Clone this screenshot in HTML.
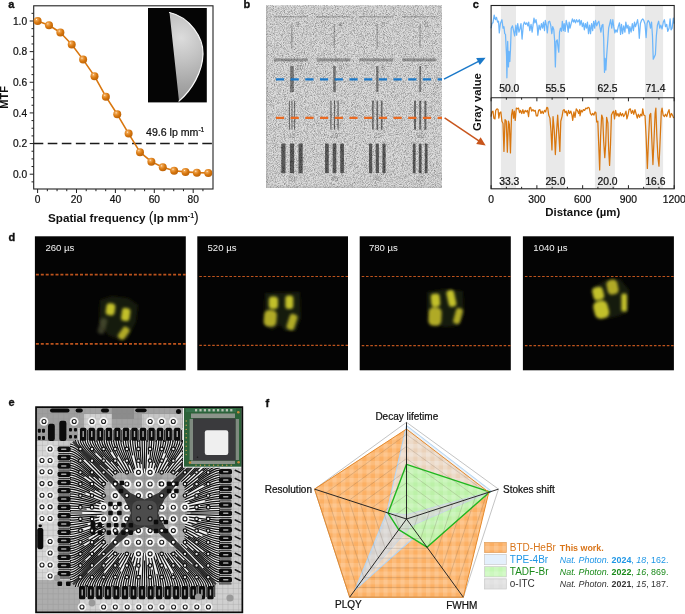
<!DOCTYPE html>
<html lang="en"><head><meta charset="utf-8"><title>Figure</title>
<style>html,body{margin:0;padding:0;background:#fff;overflow:hidden}svg{display:block}text{font-family:"Liberation Sans",sans-serif}</style>
</head><body>
<svg width="685" height="614" viewBox="0 0 685 614">
<rect width="685" height="614" fill="#fff"/>

<defs>
<radialGradient id="ballGrad" cx="0.36" cy="0.32" r="0.75">
<stop offset="0" stop-color="#fff0dc"/><stop offset="0.16" stop-color="#f0a550"/><stop offset="0.55" stop-color="#d8780f"/><stop offset="1" stop-color="#b85f06"/>
</radialGradient>
<radialGradient id="moonGrad" gradientUnits="userSpaceOnUse" cx="181" cy="38" r="62">
<stop offset="0" stop-color="#dcdcdc"/><stop offset="0.35" stop-color="#c4c4c4"/><stop offset="0.75" stop-color="#a6a6a6"/><stop offset="1" stop-color="#969696"/>
</radialGradient>
<filter id="blur03" x="-5%" y="-5%" width="110%" height="110%"><feGaussianBlur stdDeviation="0.3"/></filter>
<filter id="blur05" x="-5%" y="-5%" width="110%" height="110%"><feGaussianBlur stdDeviation="0.5"/></filter>
<filter id="blur1" x="-20%" y="-20%" width="140%" height="140%"><feGaussianBlur stdDeviation="1.35"/></filter>
<filter id="blur15" x="-30%" y="-30%" width="160%" height="160%"><feGaussianBlur stdDeviation="1.5"/></filter>
<filter id="blur2" x="-30%" y="-30%" width="160%" height="160%"><feGaussianBlur stdDeviation="2.2"/></filter>
<filter id="noiseB" x="0" y="0" width="100%" height="100%" color-interpolation-filters="sRGB">
<feTurbulence type="fractalNoise" baseFrequency="1.1" numOctaves="1" seed="3" result="n"/>
<feColorMatrix type="matrix" values="2.6 0 0 0 -0.52  2.6 0 0 0 -0.52  2.6 0 0 0 -0.52  0 0 0 0 1" in="n"/>
</filter>
<filter id="noiseB2" x="0" y="0" width="100%" height="100%" color-interpolation-filters="sRGB">
<feTurbulence type="fractalNoise" baseFrequency="1.3" numOctaves="1" seed="8" result="n"/>
<feColorMatrix type="matrix" values="3 0 0 0 -0.6  3 0 0 0 -0.6  3 0 0 0 -0.6  0 0 0 0 1" in="n"/>
</filter>
<pattern id="chkO" width="8.5" height="8.5" patternUnits="userSpaceOnUse" x="1" y="2">
<rect x="0" y="0" width="4.25" height="8.5" fill="#fff" fill-opacity="0.15"/><rect x="0" y="0" width="8.5" height="4.25" fill="#fff" fill-opacity="0.15"/>
</pattern>
<pattern id="chkG" width="8.5" height="8.5" patternUnits="userSpaceOnUse" x="1" y="2">
<rect x="0" y="0" width="4.25" height="8.5" fill="#fff" fill-opacity="0.14"/><rect x="0" y="0" width="8.5" height="4.25" fill="#fff" fill-opacity="0.14"/>
</pattern>
<pattern id="chkS" width="8.5" height="8.5" patternUnits="userSpaceOnUse" x="1" y="2">
<rect x="0" y="0" width="4.25" height="8.5" fill="#fff" fill-opacity="0.12"/><rect x="0" y="0" width="8.5" height="4.25" fill="#fff" fill-opacity="0.12"/>
</pattern>
</defs>
<g id="panel-a">
<rect x="148" y="8" width="58.8" height="94.4" fill="#050505"/>
<path d="M169.5 12.5 C190 17 203.5 38 203 54 C202.5 72 192 90 179 101.1 Z" fill="url(#moonGrad)"/>
<path d="M169.5 12.5 C190 17 203.5 38 203 54 C202.5 72 192 90 179 101.1" fill="none" stroke="#fafafa" stroke-width="1.2" stroke-linecap="round"/>
<rect x="33.7" y="5.8" width="179.3" height="183.2" fill="none" stroke="#222" stroke-width="1.1"/>
<line x1="31.5" y1="181.86" x2="33.7" y2="181.86" stroke="#222" stroke-width="1"/>
<line x1="29.7" y1="174.2" x2="33.7" y2="174.2" stroke="#222" stroke-width="1"/>
<line x1="31.5" y1="166.54" x2="33.7" y2="166.54" stroke="#222" stroke-width="1"/>
<line x1="31.5" y1="158.88" x2="33.7" y2="158.88" stroke="#222" stroke-width="1"/>
<line x1="31.5" y1="151.22" x2="33.7" y2="151.22" stroke="#222" stroke-width="1"/>
<line x1="29.7" y1="143.56" x2="33.7" y2="143.56" stroke="#222" stroke-width="1"/>
<line x1="31.5" y1="135.9" x2="33.7" y2="135.9" stroke="#222" stroke-width="1"/>
<line x1="31.5" y1="128.24" x2="33.7" y2="128.24" stroke="#222" stroke-width="1"/>
<line x1="31.5" y1="120.58" x2="33.7" y2="120.58" stroke="#222" stroke-width="1"/>
<line x1="29.7" y1="112.92" x2="33.7" y2="112.92" stroke="#222" stroke-width="1"/>
<line x1="31.5" y1="105.26" x2="33.7" y2="105.26" stroke="#222" stroke-width="1"/>
<line x1="31.5" y1="97.6" x2="33.7" y2="97.6" stroke="#222" stroke-width="1"/>
<line x1="31.5" y1="89.94" x2="33.7" y2="89.94" stroke="#222" stroke-width="1"/>
<line x1="29.7" y1="82.28" x2="33.7" y2="82.28" stroke="#222" stroke-width="1"/>
<line x1="31.5" y1="74.62" x2="33.7" y2="74.62" stroke="#222" stroke-width="1"/>
<line x1="31.5" y1="66.96" x2="33.7" y2="66.96" stroke="#222" stroke-width="1"/>
<line x1="31.5" y1="59.3" x2="33.7" y2="59.3" stroke="#222" stroke-width="1"/>
<line x1="29.7" y1="51.64" x2="33.7" y2="51.64" stroke="#222" stroke-width="1"/>
<line x1="31.5" y1="43.98" x2="33.7" y2="43.98" stroke="#222" stroke-width="1"/>
<line x1="31.5" y1="36.32" x2="33.7" y2="36.32" stroke="#222" stroke-width="1"/>
<line x1="31.5" y1="28.66" x2="33.7" y2="28.66" stroke="#222" stroke-width="1"/>
<line x1="29.7" y1="21" x2="33.7" y2="21" stroke="#222" stroke-width="1"/>
<line x1="31.5" y1="13.34" x2="33.7" y2="13.34" stroke="#222" stroke-width="1"/>
<line x1="37.6" y1="189" x2="37.6" y2="193" stroke="#222" stroke-width="1"/>
<line x1="47.33" y1="189" x2="47.33" y2="191.2" stroke="#222" stroke-width="1"/>
<line x1="57.05" y1="189" x2="57.05" y2="191.2" stroke="#222" stroke-width="1"/>
<line x1="66.78" y1="189" x2="66.78" y2="191.2" stroke="#222" stroke-width="1"/>
<line x1="76.5" y1="189" x2="76.5" y2="193" stroke="#222" stroke-width="1"/>
<line x1="86.22" y1="189" x2="86.22" y2="191.2" stroke="#222" stroke-width="1"/>
<line x1="95.95" y1="189" x2="95.95" y2="191.2" stroke="#222" stroke-width="1"/>
<line x1="105.68" y1="189" x2="105.68" y2="191.2" stroke="#222" stroke-width="1"/>
<line x1="115.4" y1="189" x2="115.4" y2="193" stroke="#222" stroke-width="1"/>
<line x1="125.12" y1="189" x2="125.12" y2="191.2" stroke="#222" stroke-width="1"/>
<line x1="134.85" y1="189" x2="134.85" y2="191.2" stroke="#222" stroke-width="1"/>
<line x1="144.58" y1="189" x2="144.58" y2="191.2" stroke="#222" stroke-width="1"/>
<line x1="154.3" y1="189" x2="154.3" y2="193" stroke="#222" stroke-width="1"/>
<line x1="164.03" y1="189" x2="164.03" y2="191.2" stroke="#222" stroke-width="1"/>
<line x1="173.75" y1="189" x2="173.75" y2="191.2" stroke="#222" stroke-width="1"/>
<line x1="183.47" y1="189" x2="183.47" y2="191.2" stroke="#222" stroke-width="1"/>
<line x1="193.2" y1="189" x2="193.2" y2="193" stroke="#222" stroke-width="1"/>
<line x1="202.93" y1="189" x2="202.93" y2="191.2" stroke="#222" stroke-width="1"/>
<text x="27.1" y="177.8" font-size="10.2" text-anchor="end" fill="#111" stroke="#111" stroke-width="0.22">0.0</text>
<text x="27.1" y="147.16" font-size="10.2" text-anchor="end" fill="#111" stroke="#111" stroke-width="0.22">0.2</text>
<text x="27.1" y="116.52" font-size="10.2" text-anchor="end" fill="#111" stroke="#111" stroke-width="0.22">0.4</text>
<text x="27.1" y="85.88" font-size="10.2" text-anchor="end" fill="#111" stroke="#111" stroke-width="0.22">0.6</text>
<text x="27.1" y="55.24" font-size="10.2" text-anchor="end" fill="#111" stroke="#111" stroke-width="0.22">0.8</text>
<text x="27.1" y="24.6" font-size="10.2" text-anchor="end" fill="#111" stroke="#111" stroke-width="0.22">1.0</text>
<text x="37.6" y="203.4" font-size="10.2" text-anchor="middle" fill="#111" stroke="#111" stroke-width="0.22">0</text>
<text x="76.5" y="203.4" font-size="10.2" text-anchor="middle" fill="#111" stroke="#111" stroke-width="0.22">20</text>
<text x="115.4" y="203.4" font-size="10.2" text-anchor="middle" fill="#111" stroke="#111" stroke-width="0.22">40</text>
<text x="154.3" y="203.4" font-size="10.2" text-anchor="middle" fill="#111" stroke="#111" stroke-width="0.22">60</text>
<text x="193.2" y="203.4" font-size="10.2" text-anchor="middle" fill="#111" stroke="#111" stroke-width="0.22">80</text>
<text transform="translate(7.9,97.4) rotate(-90)" font-size="11" font-weight="bold" text-anchor="middle" fill="#111">MTF</text>
<text x="123.4" y="221.5" font-size="11.7" font-weight="bold" text-anchor="middle" fill="#111">Spatial frequency <tspan font-weight="normal" font-size="14" dy="0.8">(</tspan><tspan dy="-0.8">lp mm</tspan><tspan font-size="7" dy="-4">-1</tspan><tspan font-weight="normal" font-size="14" dy="4.8">)</tspan></text>
<line x1="33.7" y1="143.56" x2="213" y2="143.56" stroke="#1a1a1a" stroke-width="1.5" stroke-dasharray="9.6 4.45"/>
<text x="146" y="135.5" font-size="10.6" fill="#111" stroke="#111" stroke-width="0.22">49.6 lp mm<tspan font-size="6.6" dy="-4">-1</tspan></text>
<polyline points="37.6,21 48.98,25.29 60.36,32.49 71.73,44.44 83.11,59.61 94.49,76.15 105.87,96.68 117.25,114.3 128.63,133.6 140,152.14 151.38,161.64 162.76,167.31 174.14,170.68 185.52,171.9 196.9,172.67 208.27,172.97" fill="none" stroke="#d9770f" stroke-width="1.6" stroke-linejoin="round"/>
<circle cx="37.6" cy="21" r="4.0" fill="url(#ballGrad)"/>
<circle cx="48.98" cy="25.29" r="4.0" fill="url(#ballGrad)"/>
<circle cx="60.36" cy="32.49" r="4.0" fill="url(#ballGrad)"/>
<circle cx="71.73" cy="44.44" r="4.0" fill="url(#ballGrad)"/>
<circle cx="83.11" cy="59.61" r="4.0" fill="url(#ballGrad)"/>
<circle cx="94.49" cy="76.15" r="4.0" fill="url(#ballGrad)"/>
<circle cx="105.87" cy="96.68" r="4.0" fill="url(#ballGrad)"/>
<circle cx="117.25" cy="114.3" r="4.0" fill="url(#ballGrad)"/>
<circle cx="128.63" cy="133.6" r="4.0" fill="url(#ballGrad)"/>
<circle cx="140" cy="152.14" r="4.0" fill="url(#ballGrad)"/>
<circle cx="151.38" cy="161.64" r="4.0" fill="url(#ballGrad)"/>
<circle cx="162.76" cy="167.31" r="4.0" fill="url(#ballGrad)"/>
<circle cx="174.14" cy="170.68" r="4.0" fill="url(#ballGrad)"/>
<circle cx="185.52" cy="171.9" r="4.0" fill="url(#ballGrad)"/>
<circle cx="196.9" cy="172.67" r="4.0" fill="url(#ballGrad)"/>
<circle cx="208.27" cy="172.97" r="4.0" fill="url(#ballGrad)"/>
<text x="8.2" y="7.9" font-size="11" font-weight="bold" fill="#111" stroke="#111" stroke-width="0.35">a</text>
</g>
<g id="panel-b">
<rect x="266.3" y="5.3" width="175.7" height="182.3" fill="#c8c8c8"/>
<rect x="266.3" y="5.3" width="175.7" height="182.3" filter="url(#noiseB)" opacity="0.30"/>
<g filter="url(#blur05)"><rect x="274" y="16" width="34" height="1.4" fill="#555" opacity="0.4"/><rect x="291.2" y="24" width="1.3" height="24" fill="#444" opacity="0.45"/><rect x="274" y="58.4" width="34" height="3.0" fill="#444" opacity="0.55"/><rect x="290.2" y="66" width="3.6" height="26" fill="#3c3c3c" opacity="0.75"/><rect x="316.5" y="16" width="34" height="1.4" fill="#555" opacity="0.4"/><rect x="333.7" y="24" width="1.3" height="24" fill="#444" opacity="0.45"/><rect x="316.5" y="58.4" width="34" height="3.0" fill="#444" opacity="0.55"/><rect x="333.2" y="66" width="2.6" height="26" fill="#3c3c3c" opacity="0.75"/><rect x="359.3" y="16" width="34" height="1.4" fill="#555" opacity="0.4"/><rect x="376.5" y="24" width="1.3" height="24" fill="#444" opacity="0.45"/><rect x="359.3" y="58.4" width="34" height="3.0" fill="#444" opacity="0.55"/><rect x="376.2" y="66" width="2.2" height="26" fill="#3c3c3c" opacity="0.75"/><rect x="402.2" y="16" width="34" height="1.4" fill="#555" opacity="0.4"/><rect x="419.4" y="24" width="1.3" height="24" fill="#444" opacity="0.45"/><rect x="402.2" y="58.4" width="34" height="3.0" fill="#444" opacity="0.55"/><rect x="419.3" y="66" width="1.8" height="26" fill="#3c3c3c" opacity="0.75"/><rect x="288.9" y="100.7" width="1" height="29" fill="#333" opacity="0.8"/><rect x="291.5" y="100.7" width="1" height="29" fill="#333" opacity="0.8"/><rect x="294.1" y="100.7" width="1" height="29" fill="#333" opacity="0.8"/><rect x="330.3" y="100.7" width="1.2" height="29" fill="#333" opacity="0.8"/><rect x="333.9" y="100.7" width="1.2" height="29" fill="#333" opacity="0.8"/><rect x="337.5" y="100.7" width="1.2" height="29" fill="#333" opacity="0.8"/><rect x="372.1" y="100.7" width="1.6" height="29" fill="#333" opacity="0.8"/><rect x="376.5" y="100.7" width="1.6" height="29" fill="#333" opacity="0.8"/><rect x="380.9" y="100.7" width="1.6" height="29" fill="#333" opacity="0.8"/><rect x="414" y="100.7" width="2" height="29" fill="#333" opacity="0.8"/><rect x="419.2" y="100.7" width="2" height="29" fill="#333" opacity="0.8"/><rect x="424.4" y="100.7" width="2" height="29" fill="#333" opacity="0.8"/><rect x="281.3" y="143.6" width="4.2" height="29.6" rx="0.8" fill="#2e2e2e" opacity="0.9"/><rect x="289.9" y="143.6" width="4.2" height="29.6" rx="0.8" fill="#2e2e2e" opacity="0.9"/><rect x="298.5" y="143.6" width="4.2" height="29.6" rx="0.8" fill="#2e2e2e" opacity="0.9"/><rect x="325.05" y="143.6" width="3.7" height="29.6" rx="0.8" fill="#2e2e2e" opacity="0.9"/><rect x="332.65" y="143.6" width="3.7" height="29.6" rx="0.8" fill="#2e2e2e" opacity="0.9"/><rect x="340.25" y="143.6" width="3.7" height="29.6" rx="0.8" fill="#2e2e2e" opacity="0.9"/><rect x="369" y="143.6" width="3.2" height="29.6" rx="0.8" fill="#2e2e2e" opacity="0.9"/><rect x="375.7" y="143.6" width="3.2" height="29.6" rx="0.8" fill="#2e2e2e" opacity="0.9"/><rect x="382.4" y="143.6" width="3.2" height="29.6" rx="0.8" fill="#2e2e2e" opacity="0.9"/><rect x="412.8" y="143.6" width="2.8" height="29.6" rx="0.8" fill="#2e2e2e" opacity="0.9"/><rect x="418.8" y="143.6" width="2.8" height="29.6" rx="0.8" fill="#2e2e2e" opacity="0.9"/><rect x="424.8" y="143.6" width="2.8" height="29.6" rx="0.8" fill="#2e2e2e" opacity="0.9"/></g>
<g filter="url(#blur03)"><text x="296" y="27" font-size="6.5" fill="#666" opacity="0.8">3</text><text x="338.5" y="27" font-size="6.5" fill="#666" opacity="0.8">4</text><text x="381.3" y="27" font-size="6.5" fill="#666" opacity="0.8">5</text><text x="424.2" y="27" font-size="6.5" fill="#666" opacity="0.8">6</text><text x="296" y="70" font-size="6.5" fill="#666" opacity="0.8">10</text><text x="338.5" y="70" font-size="6.5" fill="#666" opacity="0.8">9</text><text x="381.3" y="70" font-size="6.5" fill="#666" opacity="0.8">8</text><text x="424.2" y="70" font-size="6.5" fill="#666" opacity="0.8">7</text><text x="292" y="138" font-size="6.5" text-anchor="middle" fill="#777" opacity="0.8">15</text><text x="334.5" y="138" font-size="6.5" text-anchor="middle" fill="#777" opacity="0.8">20</text><text x="377.3" y="138" font-size="6.5" text-anchor="middle" fill="#777" opacity="0.8">25</text><text x="420.2" y="138" font-size="6.5" text-anchor="middle" fill="#777" opacity="0.8">30</text><text x="292" y="180.5" font-size="6.5" text-anchor="middle" fill="#777" opacity="0.8">50</text><text x="334.5" y="180.5" font-size="6.5" text-anchor="middle" fill="#777" opacity="0.8">45</text><text x="377.3" y="180.5" font-size="6.5" text-anchor="middle" fill="#777" opacity="0.8">40</text><text x="420.2" y="180.5" font-size="6.5" text-anchor="middle" fill="#777" opacity="0.8">35</text></g>
<path d="M266.7 5.3 V187.2 H442" fill="none" stroke="#9a9a9a" stroke-width="0.8"/>
<rect x="266.3" y="5.3" width="175.7" height="182.3" filter="url(#noiseB2)" opacity="0.16"/>
<line x1="275.9" y1="79.4" x2="442" y2="79.4" stroke="#1b79c9" stroke-width="2.3" stroke-dasharray="8.2 6.5"/>
<line x1="275.9" y1="117.8" x2="442" y2="117.8" stroke="#ea6a22" stroke-width="2.3" stroke-dasharray="8.2 6.5"/>
<line x1="444" y1="79.2" x2="480" y2="60.6" stroke="#1b79c9" stroke-width="1.5"/>
<path d="M485.6 57.7 L476.2 58.0 L479.8 65.0 Z" fill="#1b79c9"/>
<line x1="444.6" y1="117.8" x2="480" y2="141.6" stroke="#c8551c" stroke-width="1.5"/>
<path d="M485.7 145.5 L476.2 143.9 L480.6 137.3 Z" fill="#c8551c"/>
<text x="243.5" y="8.2" font-size="11" font-weight="bold" fill="#111" stroke="#111" stroke-width="0.35">b</text>
</g>
<g id="panel-c">
<rect x="500.9" y="5.5" width="15.1" height="183.3" fill="#e9e9e9"/>
<rect x="545.9" y="5.5" width="18.8" height="183.3" fill="#e9e9e9"/>
<rect x="594.9" y="5.5" width="20" height="183.3" fill="#e9e9e9"/>
<rect x="645" y="5.5" width="18.1" height="183.3" fill="#e9e9e9"/>
<polyline points="491.1,28.23 491.87,23.58 492.96,22.81 494.19,15.07 495.43,19.71 496.52,17.39 497.6,22.03 498.53,21.26 499.3,32.87 500.39,23.58 501.94,19.71 503.02,28.23 503.95,26.68 504.72,33.65 505.5,34.42 506.58,56.1 506.89,77.78 507.67,41.39 508.44,66.94 509.06,51.45 509.83,61.52 510.45,49.91 511.23,28.23 512.47,25.9 513.55,30.55 514.63,35.97 515.87,25.13 516.65,35.2 517.73,23.58 518.97,32.1 520.05,28.23 520.98,23.58 522.07,39.07 523.31,25.13 524.39,22.03 525.63,24.36 526.71,22.81 527.95,25.9 528.72,22.03 529.81,30.55 531.05,24.36 532.13,32.1 533.22,23.58 533.99,18.16 534.92,22.81 536,19.71 537.24,26.68 537.86,35.2 539.1,25.13 540.34,29.78 541.42,23.58 542.51,28.23 543.44,22.03 544.52,30.55 545.29,20.48 546.53,25.9 547.31,32.87 548.39,22.03 549.63,21.26 550.71,25.13 551.8,33.65 552.73,26.68 553.81,29.78 554.58,39.84 555.36,66.94 556.13,41.39 557.22,39.84 557.99,46.81 558.76,52.23 559.54,32.1 560.47,28.23 561.55,31.32 562.33,21.26 563.41,30.55 564.18,23.58 565.11,31.32 566.2,20.48 567.28,25.13 568.21,32.1 569.14,22.03 570.07,28.23 571.15,23.58 572.39,18.94 573.48,22.03 574.4,19.71 575.49,22.81 576.57,19.71 577.81,22.03 579.36,19.71 580,25.13 581.24,20.48 582.32,26.68 583.41,22.81 584.34,29.78 585.42,23.58 586.5,28.23 587.43,22.03 588.52,33.65 589.6,25.13 590.53,33.65 591.61,23.58 592.7,30.55 593.63,21.26 594.71,28.23 595.48,20.48 596.72,25.9 597.81,22.81 598.89,21.26 599.82,26.68 600.9,32.1 601.99,25.13 602.92,24.36 603.69,39.07 604.47,72.36 605.09,58.42 605.86,70.04 606.63,56.1 607.56,43.71 608.65,28.23 609.73,23.58 610.66,19.71 611.74,28.23 612.83,19.71 613.76,26.68 614.84,32.87 615.92,29.78 617.16,32.1 618.25,26.68 619.49,22.81 620.57,34.42 621.5,24.36 622.58,33.65 623.67,25.9 624.91,32.1 625.83,22.03 626.92,28.23 628,25.13 629.09,33.65 629.86,26.68 631.1,32.1 632.34,23.58 633.42,30.55 634.51,22.03 635.44,26.68 636.52,23.58 637.6,19.71 638.53,26.68 639.31,38.29 640.39,23.58 641.47,20.48 642.71,18.94 643.8,20.48 645.04,24.36 646.12,37.52 647.05,23.58 648.13,20.48 649.37,22.03 650.46,28.23 651.54,22.03 652.47,35.97 653.24,59.2 654.33,56.87 655.41,54.55 656.34,35.97 657.42,25.13 658.66,21.26 659.75,28.23 660.83,25.13 662.07,29 663.31,22.03 664.39,19.71 665.48,26.68 666.71,24.36 667.8,31.32 669.04,28.23 670.12,18.94 671.05,29.78 672.13,28.23 673.37,18.16 674.15,23.58" fill="none" stroke="#6cb6fb" stroke-width="1.25" stroke-linejoin="round"/>
<polyline points="491.1,116.58 491.87,111.94 492.96,111.16 493.88,118.13 494.97,118.9 495.74,110.39 496.98,108.84 498.07,109.61 498.84,118.13 499.77,112.71 500.85,111.94 501.94,121.23 503.02,123.55 503.95,151.42 505.03,119.68 506.27,121.23 507.36,152.2 508.44,121.23 509.37,124.32 510.45,152.97 511.54,115.03 512.47,109.61 513.55,118.13 514.32,111.16 515.25,120.45 516.34,108.07 517.42,108.84 518.5,108.07 519.59,112.71 520.52,110.39 521.76,113.48 522.84,109.61 523.92,113.48 525.16,110.39 526.25,111.94 527.49,110.39 528.57,116.58 529.5,108.07 530.58,107.29 531.67,111.16 532.91,109.61 533.99,111.16 535.23,110.39 536.31,115.81 537.55,115.81 538.63,110.39 539.87,109.61 540.96,113.48 542.2,111.16 543.28,113.48 544.52,110.39 545.6,111.94 546.84,107.29 547.77,108.07 548.7,115.03 549.94,118.13 551.02,131.29 551.95,149.87 553.04,116.58 554.27,130.52 555.36,154.52 556.44,133.61 557.68,115.03 558.76,132.84 559.85,151.42 560.78,121.23 562.02,116.58 563.1,110.39 564.18,109.61 565.11,112.71 566.2,111.16 567.28,115.81 568.52,110.39 569.6,113.48 570.84,111.16 571.93,115.03 572.7,120.45 573.94,111.94 575.02,117.36 576.26,108.84 577.35,110.39 578.59,113.48 579.67,109.61 580,115.81 581.24,110.39 582.32,111.94 583.41,109.61 584.65,110.39 585.88,108.07 586.97,108.84 588.05,107.29 589.29,108.07 590.37,113.48 591.61,115.03 592.7,113.48 593.94,115.03 595.02,111.94 595.95,112.71 596.72,122 597.81,121.23 598.89,149.1 599.67,170 600.59,136.71 601.68,115.03 602.76,118.13 603.69,141.36 604.78,157.62 605.7,144.45 606.63,117.36 607.87,122.78 608.65,149.1 609.58,165.36 610.5,144.45 611.43,115.03 612.52,112.71 613.6,111.16 614.53,118.9 615.61,110.39 616.85,115.81 617.94,113.48 619.02,116.58 620.26,112.71 621.34,115.81 622.58,113.48 623.67,116.58 624.91,114.26 625.99,111.16 626.92,118.9 628,115.03 629.09,109.61 630.33,108.84 631.41,113.48 632.65,110.39 633.73,114.26 634.97,109.61 636.05,113.48 637.29,118.13 638.38,114.26 639.62,117.36 640.7,114.26 641.94,115.81 642.71,108.84 643.8,115.03 645.04,115.81 646.12,136.71 647.36,168.46 648.44,141.36 649.68,115.03 650.76,113.48 651.69,136.71 652.93,164.58 654.02,139.81 655.1,113.48 655.87,108.07 656.8,135.16 657.89,156.84 658.97,166.13 660.06,141.36 661.29,111.94 662.07,108.07 663.15,115.03 664.39,116.58 665.48,114.26 666.71,116.58 667.8,112.71 669.04,109.61 670.12,117.36 671.36,113.48 672.44,115.03 673.68,118.13" fill="none" stroke="#d9770f" stroke-width="1.25" stroke-linejoin="round"/>
<rect x="491.1" y="5.5" width="183.1" height="183.3" fill="none" stroke="#222" stroke-width="1.1"/>
<line x1="491.1" y1="97.7" x2="674.2" y2="97.7" stroke="#222" stroke-width="1.1"/>
<line x1="491.1" y1="97.7" x2="491.1" y2="101.3" stroke="#222" stroke-width="1"/>
<line x1="491.1" y1="185.2" x2="491.1" y2="188.8" stroke="#222" stroke-width="1"/>
<line x1="506.36" y1="97.7" x2="506.36" y2="99.7" stroke="#222" stroke-width="1"/>
<line x1="506.36" y1="186.8" x2="506.36" y2="188.8" stroke="#222" stroke-width="1"/>
<line x1="521.62" y1="97.7" x2="521.62" y2="99.7" stroke="#222" stroke-width="1"/>
<line x1="521.62" y1="186.8" x2="521.62" y2="188.8" stroke="#222" stroke-width="1"/>
<line x1="536.88" y1="97.7" x2="536.88" y2="101.3" stroke="#222" stroke-width="1"/>
<line x1="536.88" y1="185.2" x2="536.88" y2="188.8" stroke="#222" stroke-width="1"/>
<line x1="552.13" y1="97.7" x2="552.13" y2="99.7" stroke="#222" stroke-width="1"/>
<line x1="552.13" y1="186.8" x2="552.13" y2="188.8" stroke="#222" stroke-width="1"/>
<line x1="567.39" y1="97.7" x2="567.39" y2="99.7" stroke="#222" stroke-width="1"/>
<line x1="567.39" y1="186.8" x2="567.39" y2="188.8" stroke="#222" stroke-width="1"/>
<line x1="582.65" y1="97.7" x2="582.65" y2="101.3" stroke="#222" stroke-width="1"/>
<line x1="582.65" y1="185.2" x2="582.65" y2="188.8" stroke="#222" stroke-width="1"/>
<line x1="597.91" y1="97.7" x2="597.91" y2="99.7" stroke="#222" stroke-width="1"/>
<line x1="597.91" y1="186.8" x2="597.91" y2="188.8" stroke="#222" stroke-width="1"/>
<line x1="613.17" y1="97.7" x2="613.17" y2="99.7" stroke="#222" stroke-width="1"/>
<line x1="613.17" y1="186.8" x2="613.17" y2="188.8" stroke="#222" stroke-width="1"/>
<line x1="628.43" y1="97.7" x2="628.43" y2="101.3" stroke="#222" stroke-width="1"/>
<line x1="628.43" y1="185.2" x2="628.43" y2="188.8" stroke="#222" stroke-width="1"/>
<line x1="643.68" y1="97.7" x2="643.68" y2="99.7" stroke="#222" stroke-width="1"/>
<line x1="643.68" y1="186.8" x2="643.68" y2="188.8" stroke="#222" stroke-width="1"/>
<line x1="658.94" y1="97.7" x2="658.94" y2="99.7" stroke="#222" stroke-width="1"/>
<line x1="658.94" y1="186.8" x2="658.94" y2="188.8" stroke="#222" stroke-width="1"/>
<line x1="674.2" y1="97.7" x2="674.2" y2="101.3" stroke="#222" stroke-width="1"/>
<line x1="674.2" y1="185.2" x2="674.2" y2="188.8" stroke="#222" stroke-width="1"/>
<text x="491.1" y="203.4" font-size="10.3" text-anchor="middle" fill="#111" stroke="#111" stroke-width="0.22">0</text>
<text x="536.88" y="203.4" font-size="10.3" text-anchor="middle" fill="#111" stroke="#111" stroke-width="0.22">300</text>
<text x="582.65" y="203.4" font-size="10.3" text-anchor="middle" fill="#111" stroke="#111" stroke-width="0.22">600</text>
<text x="628.43" y="203.4" font-size="10.3" text-anchor="middle" fill="#111" stroke="#111" stroke-width="0.22">900</text>
<text x="674.2" y="203.4" font-size="10.3" text-anchor="middle" fill="#111" stroke="#111" stroke-width="0.22">1200</text>
<text x="509.2" y="92.3" font-size="10.3" text-anchor="middle" fill="#111" stroke="#111" stroke-width="0.22">50.0</text>
<text x="555.4" y="92.3" font-size="10.3" text-anchor="middle" fill="#111" stroke="#111" stroke-width="0.22">55.5</text>
<text x="607.5" y="92.3" font-size="10.3" text-anchor="middle" fill="#111" stroke="#111" stroke-width="0.22">62.5</text>
<text x="655.4" y="92.3" font-size="10.3" text-anchor="middle" fill="#111" stroke="#111" stroke-width="0.22">71.4</text>
<text x="509.2" y="184.6" font-size="10.3" text-anchor="middle" fill="#111" stroke="#111" stroke-width="0.22">33.3</text>
<text x="555.4" y="184.6" font-size="10.3" text-anchor="middle" fill="#111" stroke="#111" stroke-width="0.22">25.0</text>
<text x="607.5" y="184.6" font-size="10.3" text-anchor="middle" fill="#111" stroke="#111" stroke-width="0.22">20.0</text>
<text x="655.4" y="184.6" font-size="10.3" text-anchor="middle" fill="#111" stroke="#111" stroke-width="0.22">16.6</text>
<text transform="translate(480.6,102) rotate(-90)" font-size="11.3" font-weight="bold" text-anchor="middle" fill="#111">Gray value</text>
<text x="582.8" y="216.3" font-size="11.4" font-weight="bold" text-anchor="middle" fill="#111">Distance (µm)</text>
<text x="472.8" y="8" font-size="11" font-weight="bold" fill="#111" stroke="#111" stroke-width="0.35">c</text>
</g>
<g id="panel-d">
<rect x="34.9" y="236.3" width="150.9" height="134" fill="#040404"/>
<g filter="url(#blur15)"><polygon points="100,300 112,296 128,298 138,305 136,322 128,338 120,340 108,335 99,322" fill="#1a1f0b" opacity="0.8"/></g>
<g filter="url(#blur1)"><rect x="106" y="303.4" width="9" height="11.9" rx="3.42" fill="#c2c02c" opacity="1" transform="rotate(8 110.5 309.35)"/><rect x="121.5" y="308" width="8.5" height="13" rx="3.23" fill="#c2c02c" opacity="1" transform="rotate(8 125.75 314.5)"/><rect x="120" y="326.5" width="7.5" height="13.5" rx="2.85" fill="#b0aa28" opacity="1" transform="rotate(35 123.75 333.25)"/><rect x="99" y="318" width="7" height="16" rx="2.66" fill="#5a5d3a" opacity="0.6" transform="rotate(15 102.5 326)"/></g>
<line x1="35.9" y1="274.7" x2="185.8" y2="274.7" stroke="#bd531d" stroke-width="1.7" stroke-dasharray="3 1.9"/>
<line x1="35.9" y1="343.8" x2="185.8" y2="343.8" stroke="#bd531d" stroke-width="1.7" stroke-dasharray="3 1.9"/>
<text x="45.4" y="251.2" font-size="9.6" fill="#f2f2f2">260 µs</text>
<rect x="197.3" y="236.3" width="150.7" height="134" fill="#040404"/>
<g filter="url(#blur15)"><polygon points="265,293 300,292 301,318 296,331 285,331 280,325 272,330 264,324" fill="#1a1f0b" opacity="0.8"/></g>
<g filter="url(#blur1)"><rect x="268.8" y="296.5" width="9.2" height="12.5" rx="3.5" fill="#c2c02c" opacity="1"/><rect x="285.3" y="295.4" width="8" height="13.6" rx="3.04" fill="#c2c02c" opacity="1"/><rect x="264" y="310" width="12.6" height="16.7" rx="4.79" fill="#b0aa28" opacity="1" transform="rotate(5 270.3 318.35)"/><rect x="288" y="314" width="8" height="16" rx="3.04" fill="#b0aa28" opacity="1" transform="rotate(18 292 322)"/></g>
<line x1="199.3" y1="276.5" x2="348" y2="276.5" stroke="#bd531d" stroke-width="1.1" stroke-dasharray="2.6 1.7"/>
<line x1="199.3" y1="345.4" x2="348" y2="345.4" stroke="#bd531d" stroke-width="1.1" stroke-dasharray="2.6 1.7"/>
<text x="207.5" y="251.2" font-size="9.6" fill="#f2f2f2">520 µs</text>
<rect x="359.7" y="236.3" width="151.1" height="134" fill="#040404"/>
<g filter="url(#blur15)"><polygon points="427,292 445,289 463,291 464,315 458,326 445,327 432,324 427,310" fill="#1a1f0b" opacity="0.8"/></g>
<g filter="url(#blur1)"><rect x="431" y="293.7" width="9" height="13.1" rx="3.42" fill="#c2c02c" opacity="1" transform="rotate(-5 435.5 300.25)"/><rect x="447.5" y="290" width="7.8" height="16.8" rx="2.96" fill="#c2c02c" opacity="1" transform="rotate(-12 451.4 298.4)"/><rect x="428.5" y="307.4" width="13" height="18.2" rx="4.94" fill="#b0aa28" opacity="1" transform="rotate(3 435 316.5)"/><rect x="454.5" y="308" width="7" height="16" rx="2.66" fill="#b0aa28" opacity="1" transform="rotate(15 458 316)"/></g>
<line x1="361.7" y1="276.5" x2="510.8" y2="276.5" stroke="#bd531d" stroke-width="1.1" stroke-dasharray="2.6 1.7"/>
<line x1="361.7" y1="345.6" x2="510.8" y2="345.6" stroke="#bd531d" stroke-width="1.1" stroke-dasharray="2.6 1.7"/>
<text x="368.9" y="251.2" font-size="9.6" fill="#f2f2f2">780 µs</text>
<rect x="522.9" y="236.3" width="151" height="134" fill="#040404"/>
<g filter="url(#blur15)"><polygon points="592,288 606,280 620,279 629,290 628,312 618,316 606,319 596,314" fill="#1a1f0b" opacity="0.8"/></g>
<g filter="url(#blur1)"><rect x="592.8" y="287" width="10.8" height="13" rx="4.1" fill="#c2c02c" opacity="1" transform="rotate(-15 598.2 293.5)"/><rect x="607" y="279.7" width="11" height="14.8" rx="4.18" fill="#b0aa28" opacity="1" transform="rotate(-12 612.5 287.1)"/><rect x="594" y="300.8" width="14.5" height="17.7" rx="5.51" fill="#c2c02c" opacity="1" transform="rotate(-15 601.25 309.65)"/><rect x="621.3" y="293.4" width="5.7" height="18.2" rx="2.17" fill="#c2c02c" opacity="1"/></g>
<line x1="524.9" y1="276.5" x2="673.9" y2="276.5" stroke="#bd531d" stroke-width="1.1" stroke-dasharray="2.6 1.7"/>
<line x1="524.9" y1="345.6" x2="673.9" y2="345.6" stroke="#bd531d" stroke-width="1.1" stroke-dasharray="2.6 1.7"/>
<text x="533.3" y="251.2" font-size="9.6" fill="#f2f2f2">1040 µs</text>
<text x="8.6" y="240.8" font-size="11" font-weight="bold" fill="#111" stroke="#111" stroke-width="0.35">d</text>
</g>
<g id="panel-e">
<clipPath id="clipE"><rect x="35.2" y="406.3" width="208" height="206.9"/></clipPath>
<g clip-path="url(#clipE)">
<rect x="35.2" y="406.3" width="208" height="206.9" fill="#c9c9c9"/>
<rect x="36" y="407" width="42" height="34" fill="#9e9e9e"/>
<rect x="36" y="441" width="22" height="140" fill="#d6d6d6"/>
<rect x="36" y="580" width="44" height="33" fill="#adadad"/>
<rect x="78" y="407" width="106" height="21" fill="#a2a2a2"/>
<rect x="84" y="414" width="28" height="14" fill="#d0d0d0"/>
<rect x="142" y="414" width="40" height="14" fill="#c6c6c6"/>
<rect x="112" y="407" width="22" height="12" fill="#8c8c8c"/>
<rect x="80" y="600" width="132" height="13" fill="#d2d2d2"/>
<rect x="212" y="580" width="31" height="33" fill="#d0d0d0"/>
<rect x="232" y="468" width="11" height="112" fill="#cdcdcd"/>
<g stroke="#8c8c8c" stroke-width="0.4" opacity="0.55"><line x1="37.2" y1="406.3" x2="37.2" y2="613.2"/><line x1="35.2" y1="408.3" x2="243.2" y2="408.3"/><line x1="42.5" y1="406.3" x2="42.5" y2="613.2"/><line x1="35.2" y1="413.6" x2="243.2" y2="413.6"/><line x1="47.8" y1="406.3" x2="47.8" y2="613.2"/><line x1="35.2" y1="418.9" x2="243.2" y2="418.9"/><line x1="53.1" y1="406.3" x2="53.1" y2="613.2"/><line x1="35.2" y1="424.2" x2="243.2" y2="424.2"/><line x1="58.4" y1="406.3" x2="58.4" y2="613.2"/><line x1="35.2" y1="429.5" x2="243.2" y2="429.5"/><line x1="63.7" y1="406.3" x2="63.7" y2="613.2"/><line x1="35.2" y1="434.8" x2="243.2" y2="434.8"/><line x1="69" y1="406.3" x2="69" y2="613.2"/><line x1="35.2" y1="440.1" x2="243.2" y2="440.1"/><line x1="74.3" y1="406.3" x2="74.3" y2="613.2"/><line x1="35.2" y1="445.4" x2="243.2" y2="445.4"/><line x1="79.6" y1="406.3" x2="79.6" y2="613.2"/><line x1="35.2" y1="450.7" x2="243.2" y2="450.7"/><line x1="84.9" y1="406.3" x2="84.9" y2="613.2"/><line x1="35.2" y1="456" x2="243.2" y2="456"/><line x1="90.2" y1="406.3" x2="90.2" y2="613.2"/><line x1="35.2" y1="461.3" x2="243.2" y2="461.3"/><line x1="95.5" y1="406.3" x2="95.5" y2="613.2"/><line x1="35.2" y1="466.6" x2="243.2" y2="466.6"/><line x1="100.8" y1="406.3" x2="100.8" y2="613.2"/><line x1="35.2" y1="471.9" x2="243.2" y2="471.9"/><line x1="106.1" y1="406.3" x2="106.1" y2="613.2"/><line x1="35.2" y1="477.2" x2="243.2" y2="477.2"/><line x1="111.4" y1="406.3" x2="111.4" y2="613.2"/><line x1="35.2" y1="482.5" x2="243.2" y2="482.5"/><line x1="116.7" y1="406.3" x2="116.7" y2="613.2"/><line x1="35.2" y1="487.8" x2="243.2" y2="487.8"/><line x1="122" y1="406.3" x2="122" y2="613.2"/><line x1="35.2" y1="493.1" x2="243.2" y2="493.1"/><line x1="127.3" y1="406.3" x2="127.3" y2="613.2"/><line x1="35.2" y1="498.4" x2="243.2" y2="498.4"/><line x1="132.6" y1="406.3" x2="132.6" y2="613.2"/><line x1="35.2" y1="503.7" x2="243.2" y2="503.7"/><line x1="137.9" y1="406.3" x2="137.9" y2="613.2"/><line x1="35.2" y1="509" x2="243.2" y2="509"/><line x1="143.2" y1="406.3" x2="143.2" y2="613.2"/><line x1="35.2" y1="514.3" x2="243.2" y2="514.3"/><line x1="148.5" y1="406.3" x2="148.5" y2="613.2"/><line x1="35.2" y1="519.6" x2="243.2" y2="519.6"/><line x1="153.8" y1="406.3" x2="153.8" y2="613.2"/><line x1="35.2" y1="524.9" x2="243.2" y2="524.9"/><line x1="159.1" y1="406.3" x2="159.1" y2="613.2"/><line x1="35.2" y1="530.2" x2="243.2" y2="530.2"/><line x1="164.4" y1="406.3" x2="164.4" y2="613.2"/><line x1="35.2" y1="535.5" x2="243.2" y2="535.5"/><line x1="169.7" y1="406.3" x2="169.7" y2="613.2"/><line x1="35.2" y1="540.8" x2="243.2" y2="540.8"/><line x1="175" y1="406.3" x2="175" y2="613.2"/><line x1="35.2" y1="546.1" x2="243.2" y2="546.1"/><line x1="180.3" y1="406.3" x2="180.3" y2="613.2"/><line x1="35.2" y1="551.4" x2="243.2" y2="551.4"/><line x1="185.6" y1="406.3" x2="185.6" y2="613.2"/><line x1="35.2" y1="556.7" x2="243.2" y2="556.7"/><line x1="190.9" y1="406.3" x2="190.9" y2="613.2"/><line x1="35.2" y1="562" x2="243.2" y2="562"/><line x1="196.2" y1="406.3" x2="196.2" y2="613.2"/><line x1="35.2" y1="567.3" x2="243.2" y2="567.3"/><line x1="201.5" y1="406.3" x2="201.5" y2="613.2"/><line x1="35.2" y1="572.6" x2="243.2" y2="572.6"/><line x1="206.8" y1="406.3" x2="206.8" y2="613.2"/><line x1="35.2" y1="577.9" x2="243.2" y2="577.9"/><line x1="212.1" y1="406.3" x2="212.1" y2="613.2"/><line x1="35.2" y1="583.2" x2="243.2" y2="583.2"/><line x1="217.4" y1="406.3" x2="217.4" y2="613.2"/><line x1="35.2" y1="588.5" x2="243.2" y2="588.5"/><line x1="222.7" y1="406.3" x2="222.7" y2="613.2"/><line x1="35.2" y1="593.8" x2="243.2" y2="593.8"/><line x1="228" y1="406.3" x2="228" y2="613.2"/><line x1="35.2" y1="599.1" x2="243.2" y2="599.1"/><line x1="233.3" y1="406.3" x2="233.3" y2="613.2"/><line x1="35.2" y1="604.4" x2="243.2" y2="604.4"/><line x1="238.6" y1="406.3" x2="238.6" y2="613.2"/><line x1="35.2" y1="609.7" x2="243.2" y2="609.7"/><line x1="243.9" y1="406.3" x2="243.9" y2="613.2"/><line x1="35.2" y1="615" x2="243.2" y2="615"/></g>
<polygon points="76,440 213,440 220,446 220,580 213,587 76,587 70,580 70,446" fill="#f1f1f1"/>
<g fill="none" stroke="#101010" stroke-width="1.22"><path d="M75.5 440 C75.5 449 99.19 464.96 111.94 478.41"/><path d="M77.88 440 C77.88 446.31 89.04 455.78 99.92 465.41"/><path d="M80.26 440 C80.26 449 101.95 463.87 113.63 476.72"/><path d="M82.64 440 C82.64 447.42 96.69 458.45 107.87 469.13"/><path d="M85.02 440 C85.02 449 104.71 462.77 115.32 475.03"/><path d="M87.4 440 C87.4 443.84 90.8 448.45 95.49 453.41"/><path d="M89.78 440 C89.78 449 107.52 461.77 117.07 473.5"/><path d="M92.16 440 C92.16 444.95 97.28 451.03 103.42 457.46"/><path d="M94.53 440 C94.53 449 110.73 461.77 119.45 473.5"/><path d="M96.91 440 C96.91 446.05 103.89 453.81 110.98 461.81"/><path d="M99.29 440 C99.29 449 113.95 461.77 121.84 473.5"/><path d="M101.67 440 C101.67 447.16 110.45 456.7 117.81 466.2"/><path d="M104.05 440 C104.05 449 117.16 461.77 124.22 473.5"/><path d="M106.43 440 C106.43 443.58 108.38 447.76 111.16 452.23"/><path d="M108.81 440 C108.81 449 120.38 461.77 126.61 473.5"/><path d="M111.19 440 C111.19 444.69 114.12 450.4 117.74 456.45"/><path d="M113.57 440 C113.57 449 123.6 461.77 129 473.5"/><path d="M115.95 440 C115.95 445.79 119.78 453.14 123.84 460.78"/><path d="M118.33 440 C118.33 449 126.81 461.77 131.38 473.5"/><path d="M120.71 440 C120.71 446.9 125.23 456.01 129.22 465.16"/><path d="M123.09 440 C123.09 449 130.03 461.77 133.77 473.5"/><path d="M125.47 440 C125.47 448 130.34 458.98 133.76 469.56"/><path d="M127.84 440 C127.84 449 133.24 461.77 136.15 473.5"/><path d="M130.22 440 C130.22 444.43 131.34 449.76 132.78 455.44"/><path d="M132.6 440 C132.6 449 136.46 461.77 138.54 473.5"/><path d="M134.98 440 C134.98 445.53 136.15 452.49 137.43 459.75"/><path d="M137.36 440 C137.36 449 139.68 461.77 140.92 473.5"/><path d="M139.74 440 C139.74 446.63 140.58 455.32 141.35 464.13"/><path d="M142.12 440 C142.12 449 142.89 461.77 143.31 473.5"/><path d="M144.5 440 C144.5 447.74 144.5 458.27 144.5 468.53"/><path d="M146.88 440 C146.88 449 146.11 461.77 145.69 473.5"/><path d="M149.26 440 C149.26 444.16 148.93 449.14 148.49 454.44"/><path d="M151.64 440 C151.64 449 149.32 461.77 148.08 473.5"/><path d="M154.02 440 C154.02 445.27 152.96 451.83 151.75 458.72"/><path d="M156.4 440 C156.4 449 152.54 461.77 150.46 473.5"/><path d="M158.78 440 C158.78 446.37 156.45 454.64 154.21 463.09"/><path d="M161.16 440 C161.16 449 155.76 461.77 152.85 473.5"/><path d="M163.53 440 C163.53 447.48 159.27 457.56 155.93 467.49"/><path d="M165.91 440 C165.91 449 158.97 461.77 155.23 473.5"/><path d="M168.29 440 C168.29 443.9 166.84 448.52 164.86 453.45"/><path d="M170.67 440 C170.67 449 162.19 461.77 157.62 473.5"/><path d="M173.05 440 C173.05 445.01 170.19 451.19 166.78 457.7"/><path d="M175.43 440 C175.43 449 165.4 461.77 160 473.5"/><path d="M177.81 440 C177.81 446.11 172.83 453.97 167.81 462.05"/><path d="M180.19 440 C180.19 449 168.62 461.77 162.39 473.5"/><path d="M182.57 440 C182.57 447.22 174.63 456.86 168.06 466.45"/><path d="M184.95 440 C184.95 449 171.84 461.77 164.78 473.5"/><path d="M187.33 440 C187.33 443.64 185.05 447.9 181.85 452.46"/><path d="M189.71 440 C189.71 449 175.05 461.77 167.16 473.5"/><path d="M192.09 440 C192.09 444.75 187.79 450.55 182.52 456.69"/><path d="M194.47 440 C194.47 449 178.27 461.77 169.55 473.5"/><path d="M196.84 440 C196.84 445.85 189.67 453.3 182.14 461.02"/><path d="M199.22 440 C199.22 449 181.48 461.77 171.93 473.5"/><path d="M201.6 440 C201.6 446.96 190.43 456.44 180.71 465.91"/><path d="M203.98 440 C203.98 449 184.29 462.77 173.68 475.03"/><path d="M206.36 440 C206.36 448.06 189.76 460.39 178.29 471.9"/><path d="M208.74 440 C208.74 449 187.05 463.87 175.37 476.72"/><path d="M211.12 440 C211.12 444.49 205.48 450.57 198.31 457.17"/><path d="M213.5 440 C213.5 449 189.81 464.96 177.06 478.41"/><path d="M220 444 C211 444 193.41 467.69 179.09 480.44"/><path d="M220 446.38 C213.95 446.38 204.26 456.64 194.3 467.07"/><path d="M220 448.76 C211 448.76 194.51 470.45 180.78 482.13"/><path d="M220 451.14 C212.84 451.14 201.3 464.22 190.11 475.18"/><path d="M220 453.52 C211 453.52 195.6 473.21 182.47 483.82"/><path d="M220 455.9 C216.42 455.9 211.91 458.86 206.97 463.06"/><path d="M220 458.28 C211 458.28 196.6 476.02 184 485.57"/><path d="M220 460.66 C215.31 460.66 209.16 465.26 202.57 470.95"/><path d="M220 463.03 C211 463.03 196.6 479.23 184 487.95"/><path d="M220 465.41 C214.21 465.41 206.18 471.8 197.84 478.57"/><path d="M220 467.79 C211 467.79 196.6 482.45 184 490.34"/><path d="M220 470.17 C213.1 470.17 203.04 478.32 193.04 485.5"/><path d="M220 472.55 C211 472.55 196.6 485.66 184 492.72"/><path d="M220 474.93 C212 474.93 199.73 484.68 188.26 491.52"/><path d="M220 477.31 C211 477.31 196.6 488.88 184 495.11"/><path d="M220 479.69 C215.57 479.69 209.84 482.3 203.66 485.65"/><path d="M220 482.07 C211 482.07 196.6 492.1 184 497.5"/><path d="M220 484.45 C214.47 484.45 206.9 487.94 198.96 491.79"/><path d="M220 486.83 C211 486.83 196.6 495.31 184 499.88"/><path d="M220 489.21 C213.37 489.21 203.8 493.4 194.18 497.27"/><path d="M220 491.59 C211 491.59 196.6 498.53 184 502.27"/><path d="M220 493.97 C212.26 493.97 200.53 498.53 189.38 501.92"/><path d="M220 496.34 C211 496.34 196.6 501.74 184 504.65"/><path d="M220 498.72 C215.84 498.72 210.52 499.71 204.75 501.03"/><path d="M220 501.1 C211 501.1 196.6 504.96 184 507.04"/><path d="M220 503.48 C214.73 503.48 207.61 504.54 200.08 505.75"/><path d="M220 505.86 C211 505.86 196.6 508.18 184 509.42"/><path d="M220 508.24 C213.63 508.24 204.54 509.02 195.31 509.76"/><path d="M220 510.62 C211 510.62 196.6 511.39 184 511.81"/><path d="M220 513 C212.52 513 201.31 513 190.51 513"/><path d="M220 515.38 C211 515.38 196.6 514.61 184 514.19"/><path d="M220 517.76 C216.1 517.76 211.18 517.47 205.83 517.07"/><path d="M220 520.14 C211 520.14 196.6 517.82 184 516.58"/><path d="M220 522.52 C214.99 522.52 208.31 521.56 201.2 520.43"/><path d="M220 524.9 C211 524.9 196.6 521.04 184 518.96"/><path d="M220 527.28 C213.89 527.28 205.28 525.14 196.44 522.99"/><path d="M220 529.66 C211 529.66 196.6 524.26 184 521.35"/><path d="M220 532.03 C212.78 532.03 202.09 528.07 191.64 524.78"/><path d="M220 534.41 C211 534.41 196.6 527.47 184 523.73"/><path d="M220 536.79 C216.36 536.79 211.83 535.53 206.9 533.75"/><path d="M220 539.17 C211 539.17 196.6 530.69 184 526.12"/><path d="M220 541.55 C215.25 541.55 209 538.98 202.31 535.81"/><path d="M220 543.93 C211 543.93 196.6 533.9 184 528.5"/><path d="M220 546.31 C214.15 546.31 206.01 541.74 197.57 536.95"/><path d="M220 548.69 C211 548.69 196.6 537.12 184 530.89"/><path d="M220 551.07 C213.04 551.07 202.86 543.69 192.77 537.28"/><path d="M220 553.45 C211 553.45 196.6 540.34 184 533.28"/><path d="M220 555.83 C211.94 555.83 199.54 544.69 187.99 536.99"/><path d="M220 558.21 C211 558.21 196.6 543.55 184 535.66"/><path d="M220 560.59 C215.51 560.59 209.68 556.75 203.41 551.88"/><path d="M220 562.97 C211 562.97 196.6 546.77 184 538.05"/><path d="M220 565.34 C214.41 565.34 206.73 558.8 198.7 551.64"/><path d="M220 567.72 C211 567.72 196.6 549.98 184 540.43"/><path d="M220 570.1 C213.3 570.1 203.37 559.75 193.43 550.31"/><path d="M220 572.48 C211 572.48 195.6 552.79 182.47 542.18"/><path d="M220 574.86 C212.2 574.86 199.18 559.31 187.1 547.92"/><path d="M220 577.24 C211 577.24 194.51 555.55 180.78 543.87"/><path d="M220 579.62 C215.77 579.62 209.78 574.62 203.15 568.05"/><path d="M220 582 C211 582 193.41 558.31 179.09 545.56"/><path d="M213.5 587 C213.5 578 189.81 561.39 177.06 547.59"/><path d="M211.12 587 C211.12 581.37 202.24 572.98 192.6 564.18"/><path d="M208.74 587 C208.74 578 187.05 562.48 175.37 549.28"/><path d="M206.36 587 C206.36 580.27 194.78 570.19 184.27 560.14"/><path d="M203.98 587 C203.98 578 184.29 563.58 173.68 550.97"/><path d="M201.6 587 C201.6 579.16 187.42 567.62 177.11 556.64"/><path d="M199.22 587 C199.22 578 181.48 564.58 171.93 552.5"/><path d="M196.84 587 C196.84 582.74 193.04 577.48 188.06 571.84"/><path d="M194.47 587 C194.47 578 178.27 564.58 169.55 552.5"/><path d="M192.09 587 C192.09 581.63 186.6 574.69 180.4 567.4"/><path d="M189.71 587 C189.71 578 175.05 564.58 167.16 552.5"/><path d="M187.33 587 C187.33 580.53 180.14 571.76 173.33 562.86"/><path d="M184.95 587 C184.95 578 171.84 564.58 164.78 552.5"/><path d="M182.57 587 C182.57 579.42 173.82 568.71 167.09 558.3"/><path d="M180.19 587 C180.19 578 168.62 564.58 162.39 552.5"/><path d="M177.81 587 C177.81 583 175.67 578.12 172.79 572.87"/><path d="M175.43 587 C175.43 578 165.4 564.58 160 552.5"/><path d="M173.05 587 C173.05 581.89 170.07 575.36 166.58 568.46"/><path d="M170.67 587 C170.67 578 162.19 564.58 157.62 552.5"/><path d="M168.29 587 C168.29 580.79 164.62 572.47 160.97 563.94"/><path d="M165.91 587 C165.91 578 158.97 564.58 155.23 552.5"/><path d="M163.53 587 C163.53 579.68 159.46 569.44 156.14 559.38"/><path d="M161.16 587 C161.16 578 155.76 564.58 152.85 552.5"/><path d="M158.78 587 C158.78 583.26 157.98 578.75 156.86 573.89"/><path d="M156.4 587 C156.4 578 152.54 564.58 150.46 552.5"/><path d="M154.02 587 C154.02 582.15 153.12 576.02 152.04 569.51"/><path d="M151.64 587 C151.64 578 149.32 564.58 148.08 552.5"/><path d="M149.26 587 C149.26 581.05 148.58 573.16 147.89 565.01"/><path d="M146.88 587 C146.88 578 146.11 564.58 145.69 552.5"/><path d="M144.5 587 C144.5 579.94 144.5 570.17 144.5 560.45"/><path d="M142.12 587 C142.12 578 142.89 564.58 143.31 552.5"/><path d="M139.74 587 C139.74 583.52 139.97 579.37 140.3 574.9"/><path d="M137.36 587 C137.36 578 139.68 564.58 140.92 552.5"/><path d="M134.98 587 C134.98 582.41 135.78 576.68 136.79 570.56"/><path d="M132.6 587 C132.6 578 136.46 564.58 138.54 552.5"/><path d="M130.22 587 C130.22 581.31 132.07 573.85 134.07 566.08"/><path d="M127.84 587 C127.84 578 133.24 564.58 136.15 552.5"/><path d="M125.47 587 C125.47 580.2 128.98 570.89 132.14 561.53"/><path d="M123.09 587 C123.09 578 130.03 564.58 133.77 552.5"/><path d="M120.71 587 C120.71 579.1 126.65 567.79 130.91 556.97"/><path d="M118.33 587 C118.33 578 126.81 564.58 131.38 552.5"/><path d="M115.95 587 C115.95 582.67 118.09 577.33 120.86 571.6"/><path d="M113.57 587 C113.57 578 123.6 564.58 129 552.5"/><path d="M111.19 587 C111.19 581.57 115.12 574.53 119.52 567.14"/><path d="M108.81 587 C108.81 578 120.38 564.58 126.61 552.5"/><path d="M106.43 587 C106.43 580.46 112.94 571.6 119.05 562.61"/><path d="M104.05 587 C104.05 578 117.16 564.58 124.22 552.5"/><path d="M101.67 587 C101.67 579.36 111.68 568.53 119.27 558.05"/><path d="M99.29 587 C99.29 578 113.95 564.58 121.84 552.5"/><path d="M96.91 587 C96.91 582.94 100.06 577.97 104.28 572.63"/><path d="M94.53 587 C94.53 578 110.73 564.58 119.45 552.5"/><path d="M92.16 587 C92.16 581.83 97.75 575.2 104.25 568.21"/><path d="M89.78 587 C89.78 578 107.52 564.58 117.07 552.5"/><path d="M87.4 587 C87.4 580.73 96.48 572.08 105.4 563.25"/><path d="M85.02 587 C85.02 578 104.71 563.58 115.32 550.97"/><path d="M82.64 587 C82.64 579.62 96.55 568.23 107.7 557.25"/><path d="M80.26 587 C80.26 578 101.95 562.48 113.63 549.28"/><path d="M77.88 587 C77.88 583.2 81.93 578.13 87.54 572.53"/><path d="M75.5 587 C75.5 578 99.19 561.39 111.94 547.59"/><path d="M70 582 C79 582 95.94 558.31 109.91 545.56"/><path d="M70 579.62 C76.73 579.62 87.61 566.92 98.38 555.4"/><path d="M70 577.24 C79 577.24 94.84 555.55 108.22 543.87"/><path d="M70 574.86 C77.84 574.86 90.45 559.16 102.22 547.75"/><path d="M70 572.48 C79 572.48 93.75 552.79 106.53 542.18"/><path d="M70 570.1 C74.26 570.1 79.69 565.91 85.56 560.42"/><path d="M70 567.72 C79 567.72 92.75 549.98 105 540.43"/><path d="M70 565.34 C75.37 565.34 82.43 559.31 89.85 552.49"/><path d="M70 562.97 C79 562.97 92.75 546.77 105 538.05"/><path d="M70 560.59 C76.47 560.59 85.4 552.61 94.47 545.03"/><path d="M70 558.21 C79 558.21 92.75 543.55 105 535.66"/><path d="M70 555.83 C77.58 555.83 88.52 545.98 99.11 538.41"/><path d="M70 553.45 C79 553.45 92.75 540.34 105 533.28"/><path d="M70 551.07 C74 551.07 78.95 548.63 84.28 545.33"/><path d="M70 548.69 C79 548.69 92.75 537.12 105 530.89"/><path d="M70 546.31 C75.11 546.31 81.75 542.83 88.77 538.76"/><path d="M70 543.93 C79 543.93 92.75 533.9 105 528.5"/><path d="M70 541.55 C76.21 541.55 84.69 537.14 93.37 532.77"/><path d="M70 539.17 C79 539.17 92.75 530.69 105 526.12"/><path d="M70 536.79 C77.32 536.79 87.78 531.69 98.01 527.56"/><path d="M70 534.41 C79 534.41 92.75 527.47 105 523.73"/><path d="M70 532.03 C73.74 532.03 78.31 530.97 83.24 529.48"/><path d="M70 529.66 C79 529.66 92.75 524.26 105 521.35"/><path d="M70 527.28 C74.85 527.28 81.07 525.93 87.7 524.31"/><path d="M70 524.9 C79 524.9 92.75 521.04 105 518.96"/><path d="M70 522.52 C75.95 522.52 83.98 521.17 92.28 519.77"/><path d="M70 520.14 C79 520.14 92.75 517.82 105 516.58"/><path d="M70 517.76 C77.06 517.76 87.03 516.81 96.92 516"/><path d="M70 515.38 C79 515.38 92.75 514.61 105 514.19"/><path d="M70 513 C73.48 513 77.67 513 82.22 513"/><path d="M70 510.62 C79 510.62 92.75 511.39 105 511.81"/><path d="M70 508.24 C74.59 508.24 80.41 508.64 86.63 509.14"/><path d="M70 505.86 C79 505.86 92.75 508.18 105 509.42"/><path d="M70 503.48 C75.69 503.48 83.28 504.72 91.19 506.04"/><path d="M70 501.1 C79 501.1 92.75 504.96 105 507.04"/><path d="M70 498.72 C76.8 498.72 86.3 501.36 95.82 503.73"/><path d="M70 496.34 C79 496.34 92.75 501.74 105 504.65"/><path d="M70 493.97 C77.9 493.97 89.46 498.72 100.46 502.13"/><path d="M70 491.59 C79 491.59 92.75 498.53 105 502.27"/><path d="M70 489.21 C74.33 489.21 79.75 490.99 85.57 493.3"/><path d="M70 486.83 C79 486.83 92.75 495.31 105 499.88"/><path d="M70 484.45 C75.43 484.45 82.59 487.82 90.11 491.59"/><path d="M70 482.07 C79 482.07 92.75 492.1 105 497.5"/><path d="M70 479.69 C76.54 479.69 85.57 485.38 94.73 490.73"/><path d="M70 477.31 C79 477.31 92.75 488.88 105 495.11"/><path d="M70 474.93 C77.64 474.93 88.7 483.82 99.37 490.58"/><path d="M70 472.55 C79 472.55 92.75 485.66 105 492.72"/><path d="M70 470.17 C74.06 470.17 79.1 473 84.53 476.8"/><path d="M70 467.79 C79 467.79 92.75 482.45 105 490.34"/><path d="M70 465.41 C75.17 465.41 81.91 470.5 89.03 476.41"/><path d="M70 463.03 C79 463.03 92.75 479.23 105 487.95"/><path d="M70 460.66 C76.27 460.66 84.86 468.9 93.63 476.99"/><path d="M70 458.28 C79 458.28 92.75 476.02 105 485.57"/><path d="M70 455.9 C77.38 455.9 88.25 468.47 98.81 478.54"/><path d="M70 453.52 C79 453.52 93.75 473.21 106.53 483.82"/><path d="M70 451.14 C73.8 451.14 78.73 454.83 84.14 459.94"/><path d="M70 448.76 C79 448.76 94.84 470.45 108.22 482.13"/><path d="M70 446.38 C74.91 446.38 82.02 453.13 89.68 461.25"/><path d="M70 444 C79 444 95.94 467.69 109.91 480.44"/></g>
<polygon points="116.5,473 172.5,473 184.5,485 184.5,541 172.5,553 116.5,553 104.5,541 104.5,485" fill="#adadad"/>
<clipPath id="clipOct"><polygon points="116.5,473 172.5,473 184.5,485 184.5,541 172.5,553 116.5,553 104.5,541 104.5,485"/></clipPath>
<g clip-path="url(#clipOct)"><rect x="102.5" y="496" width="84" height="34" fill="#9d9d9d"/><rect x="127.5" y="471" width="34" height="84" fill="#9d9d9d"/><rect x="114.5" y="483" width="24" height="24" fill="#bcbcbc"/><rect x="150.5" y="519" width="24" height="24" fill="#bcbcbc"/><rect x="150.5" y="483" width="24" height="24" fill="#b4b4b4"/><rect x="114.5" y="519" width="24" height="24" fill="#b4b4b4"/><g stroke="#777" stroke-width="0.4" opacity="0.6"><line x1="98.1" y1="468" x2="98.1" y2="558"/><line x1="99.5" y1="466.6" x2="189.5" y2="466.6"/><line x1="103.9" y1="468" x2="103.9" y2="558"/><line x1="99.5" y1="472.4" x2="189.5" y2="472.4"/><line x1="109.7" y1="468" x2="109.7" y2="558"/><line x1="99.5" y1="478.2" x2="189.5" y2="478.2"/><line x1="115.5" y1="468" x2="115.5" y2="558"/><line x1="99.5" y1="484" x2="189.5" y2="484"/><line x1="121.3" y1="468" x2="121.3" y2="558"/><line x1="99.5" y1="489.8" x2="189.5" y2="489.8"/><line x1="127.1" y1="468" x2="127.1" y2="558"/><line x1="99.5" y1="495.6" x2="189.5" y2="495.6"/><line x1="132.9" y1="468" x2="132.9" y2="558"/><line x1="99.5" y1="501.4" x2="189.5" y2="501.4"/><line x1="138.7" y1="468" x2="138.7" y2="558"/><line x1="99.5" y1="507.2" x2="189.5" y2="507.2"/><line x1="144.5" y1="468" x2="144.5" y2="558"/><line x1="99.5" y1="513" x2="189.5" y2="513"/><line x1="150.3" y1="468" x2="150.3" y2="558"/><line x1="99.5" y1="518.8" x2="189.5" y2="518.8"/><line x1="156.1" y1="468" x2="156.1" y2="558"/><line x1="99.5" y1="524.6" x2="189.5" y2="524.6"/><line x1="161.9" y1="468" x2="161.9" y2="558"/><line x1="99.5" y1="530.4" x2="189.5" y2="530.4"/><line x1="167.7" y1="468" x2="167.7" y2="558"/><line x1="99.5" y1="536.2" x2="189.5" y2="536.2"/><line x1="173.5" y1="468" x2="173.5" y2="558"/><line x1="99.5" y1="542" x2="189.5" y2="542"/><line x1="179.3" y1="468" x2="179.3" y2="558"/><line x1="99.5" y1="547.8" x2="189.5" y2="547.8"/><line x1="185.1" y1="468" x2="185.1" y2="558"/><line x1="99.5" y1="553.6" x2="189.5" y2="553.6"/><line x1="190.9" y1="468" x2="190.9" y2="558"/><line x1="99.5" y1="559.4" x2="189.5" y2="559.4"/></g></g>
<circle cx="103.62" cy="507.25" r="4.5" fill="#f6f6f6"/><circle cx="103.62" cy="518.9" r="4.5" fill="#f6f6f6"/><circle cx="115.24" cy="483.95" r="4.5" fill="#f6f6f6"/><circle cx="115.24" cy="495.6" r="4.5" fill="#f6f6f6"/><circle cx="115.24" cy="507.25" r="4.5" fill="#f6f6f6"/><circle cx="115.24" cy="518.9" r="4.5" fill="#f6f6f6"/><circle cx="115.24" cy="530.55" r="4.5" fill="#f6f6f6"/><circle cx="115.24" cy="542.2" r="4.5" fill="#f6f6f6"/><circle cx="126.86" cy="483.95" r="4.5" fill="#f6f6f6"/><circle cx="126.86" cy="495.6" r="4.5" fill="#f6f6f6"/><circle cx="126.86" cy="507.25" r="4.5" fill="#f6f6f6"/><circle cx="126.86" cy="518.9" r="4.5" fill="#f6f6f6"/><circle cx="126.86" cy="530.55" r="4.5" fill="#f6f6f6"/><circle cx="126.86" cy="542.2" r="4.5" fill="#f6f6f6"/><circle cx="138.48" cy="472.3" r="4.5" fill="#f6f6f6"/><circle cx="138.48" cy="483.95" r="4.5" fill="#f6f6f6"/><circle cx="138.48" cy="495.6" r="4.5" fill="#f6f6f6"/><circle cx="138.48" cy="530.55" r="4.5" fill="#f6f6f6"/><circle cx="138.48" cy="542.2" r="4.5" fill="#f6f6f6"/><circle cx="138.48" cy="553.85" r="4.5" fill="#f6f6f6"/><circle cx="150.1" cy="472.3" r="4.5" fill="#f6f6f6"/><circle cx="150.1" cy="483.95" r="4.5" fill="#f6f6f6"/><circle cx="150.1" cy="495.6" r="4.5" fill="#f6f6f6"/><circle cx="150.1" cy="530.55" r="4.5" fill="#f6f6f6"/><circle cx="150.1" cy="542.2" r="4.5" fill="#f6f6f6"/><circle cx="150.1" cy="553.85" r="4.5" fill="#f6f6f6"/><circle cx="161.72" cy="483.95" r="4.5" fill="#f6f6f6"/><circle cx="161.72" cy="495.6" r="4.5" fill="#f6f6f6"/><circle cx="161.72" cy="507.25" r="4.5" fill="#f6f6f6"/><circle cx="161.72" cy="518.9" r="4.5" fill="#f6f6f6"/><circle cx="161.72" cy="530.55" r="4.5" fill="#f6f6f6"/><circle cx="161.72" cy="542.2" r="4.5" fill="#f6f6f6"/><circle cx="173.34" cy="483.95" r="4.5" fill="#f6f6f6"/><circle cx="173.34" cy="495.6" r="4.5" fill="#f6f6f6"/><circle cx="173.34" cy="507.25" r="4.5" fill="#f6f6f6"/><circle cx="173.34" cy="518.9" r="4.5" fill="#f6f6f6"/><circle cx="173.34" cy="530.55" r="4.5" fill="#f6f6f6"/><circle cx="173.34" cy="542.2" r="4.5" fill="#f6f6f6"/><circle cx="184.96" cy="507.25" r="4.5" fill="#f6f6f6"/><circle cx="184.96" cy="518.9" r="4.5" fill="#f6f6f6"/>
<g filter="url(#blur05)"><polygon points="144.5,499.57 158.36,492.92 172.22,481.32 215.07,440.73 216.77,442.43 176.18,485.28 164.58,499.14 157.93,513 157.93,513 164.58,526.86 176.18,540.72 216.77,583.57 215.07,585.27 172.22,544.68 158.36,533.08 144.5,526.43 144.5,526.43 130.64,533.08 116.78,544.68 73.93,585.27 72.23,583.57 112.82,540.72 124.42,526.86 131.07,513 131.07,513 124.42,499.14 112.82,485.28 72.23,442.43 73.93,440.73 116.78,481.32 130.64,492.92 144.5,499.57" fill="#2b2b2b" opacity="0.92"/>
<rect x="132" y="500.5" width="25" height="25" rx="7" fill="#4c4c4c" opacity="0.95"/></g>
<rect x="108.2" y="501.7" width="4.6" height="4.6" rx="1.1" fill="#0c0c0c"/>
<rect x="117.1" y="501.7" width="4.6" height="4.6" rx="1.1" fill="#0c0c0c"/>
<rect x="108.2" y="510.7" width="4.6" height="4.6" rx="1.1" fill="#0c0c0c"/>
<rect x="117.1" y="510.7" width="4.6" height="4.6" rx="1.1" fill="#0c0c0c"/>
<rect x="97.6" y="523" width="4.6" height="4.6" rx="1.1" fill="#0c0c0c"/>
<rect x="106.5" y="523" width="4.6" height="4.6" rx="1.1" fill="#0c0c0c"/>
<rect x="113.9" y="523" width="4.6" height="4.6" rx="1.1" fill="#0c0c0c"/>
<rect x="121.2" y="523" width="4.6" height="4.6" rx="1.1" fill="#0c0c0c"/>
<rect x="128.5" y="523" width="4.6" height="4.6" rx="1.1" fill="#0c0c0c"/>
<rect x="97.6" y="530.3" width="4.6" height="4.6" rx="1.1" fill="#0c0c0c"/>
<rect x="106.5" y="530.3" width="4.6" height="4.6" rx="1.1" fill="#0c0c0c"/>
<rect x="113.9" y="530.3" width="4.6" height="4.6" rx="1.1" fill="#0c0c0c"/>
<rect x="121.2" y="530.3" width="4.6" height="4.6" rx="1.1" fill="#0c0c0c"/>
<rect x="128.5" y="530.3" width="4.6" height="4.6" rx="1.1" fill="#0c0c0c"/>
<rect x="158.7" y="481.4" width="4.6" height="4.6" rx="1.1" fill="#0c0c0c"/>
<rect x="166.8" y="481.4" width="4.6" height="4.6" rx="1.1" fill="#0c0c0c"/>
<rect x="174.1" y="481.4" width="4.6" height="4.6" rx="1.1" fill="#0c0c0c"/>
<rect x="166.8" y="488.7" width="4.6" height="4.6" rx="1.1" fill="#0c0c0c"/>
<rect x="174.1" y="488.7" width="4.6" height="4.6" rx="1.1" fill="#0c0c0c"/>
<rect x="153.7" y="519.7" width="4.6" height="4.6" rx="1.1" fill="#0c0c0c"/>
<rect x="163.5" y="519.7" width="4.6" height="4.6" rx="1.1" fill="#0c0c0c"/>
<rect x="153.7" y="528.7" width="4.6" height="4.6" rx="1.1" fill="#0c0c0c"/>
<rect x="163.5" y="528.7" width="4.6" height="4.6" rx="1.1" fill="#0c0c0c"/>
<rect x="113.1" y="480.7" width="4.6" height="4.6" rx="1.1" fill="#0c0c0c"/>
<rect x="119.6" y="480.7" width="4.6" height="4.6" rx="1.1" fill="#0c0c0c"/>
<rect x="118.7" y="488.7" width="4.6" height="4.6" rx="1.1" fill="#0c0c0c"/>
<rect x="90.5" y="521" width="5" height="14" rx="2" fill="#0c0c0c"/>
<circle cx="80.38" cy="449" r="1.8" fill="#ececec" stroke="#101010" stroke-width="1.25"/><circle cx="80.38" cy="460.65" r="1.8" fill="#ececec" stroke="#101010" stroke-width="1.25"/><circle cx="80.38" cy="472.3" r="1.8" fill="#ececec" stroke="#101010" stroke-width="1.25"/><circle cx="80.38" cy="483.95" r="1.8" fill="#ececec" stroke="#101010" stroke-width="1.25"/><circle cx="80.38" cy="495.6" r="1.8" fill="#ececec" stroke="#101010" stroke-width="1.25"/><circle cx="80.38" cy="507.25" r="1.8" fill="#ececec" stroke="#101010" stroke-width="1.25"/><circle cx="80.38" cy="518.9" r="1.8" fill="#ececec" stroke="#101010" stroke-width="1.25"/><circle cx="80.38" cy="530.55" r="1.8" fill="#ececec" stroke="#101010" stroke-width="1.25"/><circle cx="80.38" cy="542.2" r="1.8" fill="#ececec" stroke="#101010" stroke-width="1.25"/><circle cx="80.38" cy="553.85" r="1.8" fill="#ececec" stroke="#101010" stroke-width="1.25"/><circle cx="80.38" cy="565.5" r="1.8" fill="#ececec" stroke="#101010" stroke-width="1.25"/><circle cx="80.38" cy="577.15" r="1.8" fill="#ececec" stroke="#101010" stroke-width="1.25"/><circle cx="92" cy="449" r="1.8" fill="#ececec" stroke="#101010" stroke-width="1.25"/><circle cx="92" cy="460.65" r="1.8" fill="#ececec" stroke="#101010" stroke-width="1.25"/><circle cx="92" cy="472.3" r="1.8" fill="#ececec" stroke="#101010" stroke-width="1.25"/><circle cx="92" cy="483.95" r="1.8" fill="#ececec" stroke="#101010" stroke-width="1.25"/><circle cx="92" cy="495.6" r="1.8" fill="#ececec" stroke="#101010" stroke-width="1.25"/><circle cx="92" cy="507.25" r="1.8" fill="#ececec" stroke="#101010" stroke-width="1.25"/><circle cx="92" cy="518.9" r="1.8" fill="#ececec" stroke="#101010" stroke-width="1.25"/><circle cx="92" cy="530.55" r="1.8" fill="#ececec" stroke="#101010" stroke-width="1.25"/><circle cx="92" cy="542.2" r="1.8" fill="#ececec" stroke="#101010" stroke-width="1.25"/><circle cx="92" cy="553.85" r="1.8" fill="#ececec" stroke="#101010" stroke-width="1.25"/><circle cx="92" cy="565.5" r="1.8" fill="#ececec" stroke="#101010" stroke-width="1.25"/><circle cx="92" cy="577.15" r="1.8" fill="#ececec" stroke="#101010" stroke-width="1.25"/><circle cx="103.62" cy="449" r="1.8" fill="#ececec" stroke="#101010" stroke-width="1.25"/><circle cx="103.62" cy="460.65" r="1.8" fill="#ececec" stroke="#101010" stroke-width="1.25"/><circle cx="103.62" cy="472.3" r="1.8" fill="#ececec" stroke="#101010" stroke-width="1.25"/><circle cx="103.62" cy="483.95" r="1.8" fill="#ececec" stroke="#101010" stroke-width="1.25"/><circle cx="103.62" cy="495.6" r="1.8" fill="#ececec" stroke="#101010" stroke-width="1.25"/><circle cx="103.62" cy="507.25" r="2.0" fill="#fff" stroke="#151515" stroke-width="1.15"/><circle cx="103.62" cy="518.9" r="2.0" fill="#fff" stroke="#151515" stroke-width="1.15"/><circle cx="103.62" cy="530.55" r="1.8" fill="#ececec" stroke="#101010" stroke-width="1.25"/><circle cx="103.62" cy="542.2" r="1.8" fill="#ececec" stroke="#101010" stroke-width="1.25"/><circle cx="103.62" cy="553.85" r="1.8" fill="#ececec" stroke="#101010" stroke-width="1.25"/><circle cx="103.62" cy="565.5" r="1.8" fill="#ececec" stroke="#101010" stroke-width="1.25"/><circle cx="103.62" cy="577.15" r="1.8" fill="#ececec" stroke="#101010" stroke-width="1.25"/><circle cx="115.24" cy="449" r="1.8" fill="#ececec" stroke="#101010" stroke-width="1.25"/><circle cx="115.24" cy="460.65" r="1.8" fill="#ececec" stroke="#101010" stroke-width="1.25"/><circle cx="115.24" cy="472.3" r="1.8" fill="#ececec" stroke="#101010" stroke-width="1.25"/><circle cx="115.24" cy="483.95" r="2.0" fill="#fff" stroke="#151515" stroke-width="1.15"/><circle cx="115.24" cy="495.6" r="2.0" fill="#fff" stroke="#151515" stroke-width="1.15"/><circle cx="115.24" cy="507.25" r="2.0" fill="#fff" stroke="#151515" stroke-width="1.15"/><circle cx="115.24" cy="518.9" r="2.0" fill="#fff" stroke="#151515" stroke-width="1.15"/><circle cx="115.24" cy="530.55" r="2.0" fill="#fff" stroke="#151515" stroke-width="1.15"/><circle cx="115.24" cy="542.2" r="2.0" fill="#fff" stroke="#151515" stroke-width="1.15"/><circle cx="115.24" cy="553.85" r="1.8" fill="#ececec" stroke="#101010" stroke-width="1.25"/><circle cx="115.24" cy="565.5" r="1.8" fill="#ececec" stroke="#101010" stroke-width="1.25"/><circle cx="115.24" cy="577.15" r="1.8" fill="#ececec" stroke="#101010" stroke-width="1.25"/><circle cx="126.86" cy="449" r="1.8" fill="#ececec" stroke="#101010" stroke-width="1.25"/><circle cx="126.86" cy="460.65" r="1.8" fill="#ececec" stroke="#101010" stroke-width="1.25"/><circle cx="126.86" cy="472.3" r="1.8" fill="#ececec" stroke="#101010" stroke-width="1.25"/><circle cx="126.86" cy="483.95" r="2.0" fill="#fff" stroke="#151515" stroke-width="1.15"/><circle cx="126.86" cy="495.6" r="2.0" fill="#fff" stroke="#151515" stroke-width="1.15"/><circle cx="126.86" cy="507.25" r="2.0" fill="#fff" stroke="#151515" stroke-width="1.15"/><circle cx="126.86" cy="518.9" r="2.0" fill="#fff" stroke="#151515" stroke-width="1.15"/><circle cx="126.86" cy="530.55" r="2.0" fill="#fff" stroke="#151515" stroke-width="1.15"/><circle cx="126.86" cy="542.2" r="2.0" fill="#fff" stroke="#151515" stroke-width="1.15"/><circle cx="126.86" cy="553.85" r="1.8" fill="#ececec" stroke="#101010" stroke-width="1.25"/><circle cx="126.86" cy="565.5" r="1.8" fill="#ececec" stroke="#101010" stroke-width="1.25"/><circle cx="126.86" cy="577.15" r="1.8" fill="#ececec" stroke="#101010" stroke-width="1.25"/><circle cx="138.48" cy="449" r="1.8" fill="#ececec" stroke="#101010" stroke-width="1.25"/><circle cx="138.48" cy="460.65" r="1.8" fill="#ececec" stroke="#101010" stroke-width="1.25"/><circle cx="138.48" cy="472.3" r="2.0" fill="#fff" stroke="#151515" stroke-width="1.15"/><circle cx="138.48" cy="483.95" r="2.0" fill="#fff" stroke="#151515" stroke-width="1.15"/><circle cx="138.48" cy="495.6" r="2.0" fill="#fff" stroke="#151515" stroke-width="1.15"/><circle cx="138.48" cy="507.25" r="2.0" fill="#9a9a9a" stroke="#151515" stroke-width="1.15"/><circle cx="138.48" cy="518.9" r="2.0" fill="#9a9a9a" stroke="#151515" stroke-width="1.15"/><circle cx="138.48" cy="530.55" r="2.0" fill="#fff" stroke="#151515" stroke-width="1.15"/><circle cx="138.48" cy="542.2" r="2.0" fill="#fff" stroke="#151515" stroke-width="1.15"/><circle cx="138.48" cy="553.85" r="2.0" fill="#fff" stroke="#151515" stroke-width="1.15"/><circle cx="138.48" cy="565.5" r="1.8" fill="#ececec" stroke="#101010" stroke-width="1.25"/><circle cx="138.48" cy="577.15" r="1.8" fill="#ececec" stroke="#101010" stroke-width="1.25"/><circle cx="150.1" cy="449" r="1.8" fill="#ececec" stroke="#101010" stroke-width="1.25"/><circle cx="150.1" cy="460.65" r="1.8" fill="#ececec" stroke="#101010" stroke-width="1.25"/><circle cx="150.1" cy="472.3" r="2.0" fill="#fff" stroke="#151515" stroke-width="1.15"/><circle cx="150.1" cy="483.95" r="2.0" fill="#fff" stroke="#151515" stroke-width="1.15"/><circle cx="150.1" cy="495.6" r="2.0" fill="#fff" stroke="#151515" stroke-width="1.15"/><circle cx="150.1" cy="507.25" r="2.0" fill="#9a9a9a" stroke="#151515" stroke-width="1.15"/><circle cx="150.1" cy="518.9" r="2.0" fill="#9a9a9a" stroke="#151515" stroke-width="1.15"/><circle cx="150.1" cy="530.55" r="2.0" fill="#fff" stroke="#151515" stroke-width="1.15"/><circle cx="150.1" cy="542.2" r="2.0" fill="#fff" stroke="#151515" stroke-width="1.15"/><circle cx="150.1" cy="553.85" r="2.0" fill="#fff" stroke="#151515" stroke-width="1.15"/><circle cx="150.1" cy="565.5" r="1.8" fill="#ececec" stroke="#101010" stroke-width="1.25"/><circle cx="150.1" cy="577.15" r="1.8" fill="#ececec" stroke="#101010" stroke-width="1.25"/><circle cx="161.72" cy="449" r="1.8" fill="#ececec" stroke="#101010" stroke-width="1.25"/><circle cx="161.72" cy="460.65" r="1.8" fill="#ececec" stroke="#101010" stroke-width="1.25"/><circle cx="161.72" cy="472.3" r="1.8" fill="#ececec" stroke="#101010" stroke-width="1.25"/><circle cx="161.72" cy="483.95" r="2.0" fill="#fff" stroke="#151515" stroke-width="1.15"/><circle cx="161.72" cy="495.6" r="2.0" fill="#fff" stroke="#151515" stroke-width="1.15"/><circle cx="161.72" cy="507.25" r="2.0" fill="#fff" stroke="#151515" stroke-width="1.15"/><circle cx="161.72" cy="518.9" r="2.0" fill="#fff" stroke="#151515" stroke-width="1.15"/><circle cx="161.72" cy="530.55" r="2.0" fill="#fff" stroke="#151515" stroke-width="1.15"/><circle cx="161.72" cy="542.2" r="2.0" fill="#fff" stroke="#151515" stroke-width="1.15"/><circle cx="161.72" cy="553.85" r="1.8" fill="#ececec" stroke="#101010" stroke-width="1.25"/><circle cx="161.72" cy="565.5" r="1.8" fill="#ececec" stroke="#101010" stroke-width="1.25"/><circle cx="161.72" cy="577.15" r="1.8" fill="#ececec" stroke="#101010" stroke-width="1.25"/><circle cx="173.34" cy="449" r="1.8" fill="#ececec" stroke="#101010" stroke-width="1.25"/><circle cx="173.34" cy="460.65" r="1.8" fill="#ececec" stroke="#101010" stroke-width="1.25"/><circle cx="173.34" cy="472.3" r="1.8" fill="#ececec" stroke="#101010" stroke-width="1.25"/><circle cx="173.34" cy="483.95" r="2.0" fill="#fff" stroke="#151515" stroke-width="1.15"/><circle cx="173.34" cy="495.6" r="2.0" fill="#fff" stroke="#151515" stroke-width="1.15"/><circle cx="173.34" cy="507.25" r="2.0" fill="#fff" stroke="#151515" stroke-width="1.15"/><circle cx="173.34" cy="518.9" r="2.0" fill="#fff" stroke="#151515" stroke-width="1.15"/><circle cx="173.34" cy="530.55" r="2.0" fill="#fff" stroke="#151515" stroke-width="1.15"/><circle cx="173.34" cy="542.2" r="2.0" fill="#fff" stroke="#151515" stroke-width="1.15"/><circle cx="173.34" cy="553.85" r="1.8" fill="#ececec" stroke="#101010" stroke-width="1.25"/><circle cx="173.34" cy="565.5" r="1.8" fill="#ececec" stroke="#101010" stroke-width="1.25"/><circle cx="173.34" cy="577.15" r="1.8" fill="#ececec" stroke="#101010" stroke-width="1.25"/><circle cx="184.96" cy="472.3" r="1.8" fill="#ececec" stroke="#101010" stroke-width="1.25"/><circle cx="184.96" cy="483.95" r="1.8" fill="#ececec" stroke="#101010" stroke-width="1.25"/><circle cx="184.96" cy="495.6" r="1.8" fill="#ececec" stroke="#101010" stroke-width="1.25"/><circle cx="184.96" cy="507.25" r="2.0" fill="#fff" stroke="#151515" stroke-width="1.15"/><circle cx="184.96" cy="518.9" r="2.0" fill="#fff" stroke="#151515" stroke-width="1.15"/><circle cx="184.96" cy="530.55" r="1.8" fill="#ececec" stroke="#101010" stroke-width="1.25"/><circle cx="184.96" cy="542.2" r="1.8" fill="#ececec" stroke="#101010" stroke-width="1.25"/><circle cx="184.96" cy="553.85" r="1.8" fill="#ececec" stroke="#101010" stroke-width="1.25"/><circle cx="184.96" cy="565.5" r="1.8" fill="#ececec" stroke="#101010" stroke-width="1.25"/><circle cx="184.96" cy="577.15" r="1.8" fill="#ececec" stroke="#101010" stroke-width="1.25"/><circle cx="196.58" cy="472.3" r="1.8" fill="#ececec" stroke="#101010" stroke-width="1.25"/><circle cx="196.58" cy="483.95" r="1.8" fill="#ececec" stroke="#101010" stroke-width="1.25"/><circle cx="196.58" cy="495.6" r="1.8" fill="#ececec" stroke="#101010" stroke-width="1.25"/><circle cx="196.58" cy="507.25" r="1.8" fill="#ececec" stroke="#101010" stroke-width="1.25"/><circle cx="196.58" cy="518.9" r="1.8" fill="#ececec" stroke="#101010" stroke-width="1.25"/><circle cx="196.58" cy="530.55" r="1.8" fill="#ececec" stroke="#101010" stroke-width="1.25"/><circle cx="196.58" cy="542.2" r="1.8" fill="#ececec" stroke="#101010" stroke-width="1.25"/><circle cx="196.58" cy="553.85" r="1.8" fill="#ececec" stroke="#101010" stroke-width="1.25"/><circle cx="196.58" cy="565.5" r="1.8" fill="#ececec" stroke="#101010" stroke-width="1.25"/><circle cx="196.58" cy="577.15" r="1.8" fill="#ececec" stroke="#101010" stroke-width="1.25"/><circle cx="208.2" cy="472.3" r="1.8" fill="#ececec" stroke="#101010" stroke-width="1.25"/><circle cx="208.2" cy="483.95" r="1.8" fill="#ececec" stroke="#101010" stroke-width="1.25"/><circle cx="208.2" cy="495.6" r="1.8" fill="#ececec" stroke="#101010" stroke-width="1.25"/><circle cx="208.2" cy="507.25" r="1.8" fill="#ececec" stroke="#101010" stroke-width="1.25"/><circle cx="208.2" cy="518.9" r="1.8" fill="#ececec" stroke="#101010" stroke-width="1.25"/><circle cx="208.2" cy="530.55" r="1.8" fill="#ececec" stroke="#101010" stroke-width="1.25"/><circle cx="208.2" cy="542.2" r="1.8" fill="#ececec" stroke="#101010" stroke-width="1.25"/><circle cx="208.2" cy="553.85" r="1.8" fill="#ececec" stroke="#101010" stroke-width="1.25"/><circle cx="208.2" cy="565.5" r="1.8" fill="#ececec" stroke="#101010" stroke-width="1.25"/><circle cx="208.2" cy="577.15" r="1.8" fill="#ececec" stroke="#101010" stroke-width="1.25"/>
<rect x="80" y="427.8" width="6.4" height="13" rx="1.6" fill="#0d0d0d"/><rect x="82.5" y="431" width="1.4" height="6" fill="#a8a8a8"/><rect x="87.05" y="430" width="0.9" height="12" fill="#1a1a1a"/><rect x="88.55" y="427.8" width="6.4" height="13" rx="1.6" fill="#0d0d0d"/><rect x="91.05" y="431" width="1.4" height="6" fill="#a8a8a8"/><rect x="95.6" y="430" width="0.9" height="12" fill="#1a1a1a"/><rect x="97.1" y="427.8" width="6.4" height="13" rx="1.6" fill="#0d0d0d"/><rect x="99.6" y="431" width="1.4" height="6" fill="#a8a8a8"/><rect x="104.15" y="430" width="0.9" height="12" fill="#1a1a1a"/><rect x="105.65" y="427.8" width="6.4" height="13" rx="1.6" fill="#0d0d0d"/><rect x="108.15" y="431" width="1.4" height="6" fill="#a8a8a8"/><rect x="112.7" y="430" width="0.9" height="12" fill="#1a1a1a"/><rect x="114.2" y="427.8" width="6.4" height="13" rx="1.6" fill="#0d0d0d"/><rect x="116.7" y="431" width="1.4" height="6" fill="#a8a8a8"/><rect x="121.25" y="430" width="0.9" height="12" fill="#1a1a1a"/><rect x="122.75" y="427.8" width="6.4" height="13" rx="1.6" fill="#0d0d0d"/><rect x="125.25" y="431" width="1.4" height="6" fill="#a8a8a8"/><rect x="129.8" y="430" width="0.9" height="12" fill="#1a1a1a"/><rect x="131.3" y="427.8" width="6.4" height="13" rx="1.6" fill="#0d0d0d"/><rect x="133.8" y="431" width="1.4" height="6" fill="#a8a8a8"/><rect x="138.35" y="430" width="0.9" height="12" fill="#1a1a1a"/><rect x="139.85" y="427.8" width="6.4" height="13" rx="1.6" fill="#0d0d0d"/><rect x="142.35" y="431" width="1.4" height="6" fill="#a8a8a8"/><rect x="146.9" y="430" width="0.9" height="12" fill="#1a1a1a"/><rect x="148.4" y="427.8" width="6.4" height="13" rx="1.6" fill="#0d0d0d"/><rect x="150.9" y="431" width="1.4" height="6" fill="#a8a8a8"/><rect x="155.45" y="430" width="0.9" height="12" fill="#1a1a1a"/><rect x="156.95" y="427.8" width="6.4" height="13" rx="1.6" fill="#0d0d0d"/><rect x="159.45" y="431" width="1.4" height="6" fill="#a8a8a8"/><rect x="164" y="430" width="0.9" height="12" fill="#1a1a1a"/><rect x="165.5" y="427.8" width="6.4" height="13" rx="1.6" fill="#0d0d0d"/><rect x="168" y="431" width="1.4" height="6" fill="#a8a8a8"/><rect x="172.55" y="430" width="0.9" height="12" fill="#1a1a1a"/><rect x="174.05" y="427.8" width="6.4" height="13" rx="1.6" fill="#0d0d0d"/><rect x="176.55" y="431" width="1.4" height="6" fill="#a8a8a8"/><rect x="181.1" y="430" width="0.9" height="12" fill="#1a1a1a"/><rect x="79" y="586" width="6.4" height="13.3" rx="1.6" fill="#0d0d0d"/><rect x="81.5" y="589.5" width="1.4" height="6" fill="#a8a8a8"/><rect x="86.05" y="585" width="0.9" height="12" fill="#1a1a1a"/><rect x="87.55" y="586" width="6.4" height="13.3" rx="1.6" fill="#0d0d0d"/><rect x="90.05" y="589.5" width="1.4" height="6" fill="#a8a8a8"/><rect x="94.6" y="585" width="0.9" height="12" fill="#1a1a1a"/><rect x="96.1" y="586" width="6.4" height="13.3" rx="1.6" fill="#0d0d0d"/><rect x="98.6" y="589.5" width="1.4" height="6" fill="#a8a8a8"/><rect x="103.15" y="585" width="0.9" height="12" fill="#1a1a1a"/><rect x="104.65" y="586" width="6.4" height="13.3" rx="1.6" fill="#0d0d0d"/><rect x="107.15" y="589.5" width="1.4" height="6" fill="#a8a8a8"/><rect x="111.7" y="585" width="0.9" height="12" fill="#1a1a1a"/><rect x="113.2" y="586" width="6.4" height="13.3" rx="1.6" fill="#0d0d0d"/><rect x="115.7" y="589.5" width="1.4" height="6" fill="#a8a8a8"/><rect x="120.25" y="585" width="0.9" height="12" fill="#1a1a1a"/><rect x="121.75" y="586" width="6.4" height="13.3" rx="1.6" fill="#0d0d0d"/><rect x="124.25" y="589.5" width="1.4" height="6" fill="#a8a8a8"/><rect x="128.8" y="585" width="0.9" height="12" fill="#1a1a1a"/><rect x="130.3" y="586" width="6.4" height="13.3" rx="1.6" fill="#0d0d0d"/><rect x="132.8" y="589.5" width="1.4" height="6" fill="#a8a8a8"/><rect x="137.35" y="585" width="0.9" height="12" fill="#1a1a1a"/><rect x="138.85" y="586" width="6.4" height="13.3" rx="1.6" fill="#0d0d0d"/><rect x="141.35" y="589.5" width="1.4" height="6" fill="#a8a8a8"/><rect x="145.9" y="585" width="0.9" height="12" fill="#1a1a1a"/><rect x="147.4" y="586" width="6.4" height="13.3" rx="1.6" fill="#0d0d0d"/><rect x="149.9" y="589.5" width="1.4" height="6" fill="#a8a8a8"/><rect x="154.45" y="585" width="0.9" height="12" fill="#1a1a1a"/><rect x="155.95" y="586" width="6.4" height="13.3" rx="1.6" fill="#0d0d0d"/><rect x="158.45" y="589.5" width="1.4" height="6" fill="#a8a8a8"/><rect x="163" y="585" width="0.9" height="12" fill="#1a1a1a"/><rect x="164.5" y="586" width="6.4" height="13.3" rx="1.6" fill="#0d0d0d"/><rect x="167" y="589.5" width="1.4" height="6" fill="#a8a8a8"/><rect x="171.55" y="585" width="0.9" height="12" fill="#1a1a1a"/><rect x="173.05" y="586" width="6.4" height="13.3" rx="1.6" fill="#0d0d0d"/><rect x="175.55" y="589.5" width="1.4" height="6" fill="#a8a8a8"/><rect x="180.1" y="585" width="0.9" height="12" fill="#1a1a1a"/><rect x="181.6" y="586" width="6.4" height="13.3" rx="1.6" fill="#0d0d0d"/><rect x="184.1" y="589.5" width="1.4" height="6" fill="#a8a8a8"/><rect x="188.65" y="585" width="0.9" height="12" fill="#1a1a1a"/><rect x="190.15" y="586" width="6.4" height="13.3" rx="1.6" fill="#0d0d0d"/><rect x="192.65" y="589.5" width="1.4" height="6" fill="#a8a8a8"/><rect x="197.2" y="585" width="0.9" height="12" fill="#1a1a1a"/><rect x="198.7" y="586" width="6.4" height="13.3" rx="1.6" fill="#0d0d0d"/><rect x="201.2" y="589.5" width="1.4" height="6" fill="#a8a8a8"/><rect x="205.75" y="585" width="0.9" height="12" fill="#1a1a1a"/><rect x="207.25" y="586" width="6.4" height="13.3" rx="1.6" fill="#0d0d0d"/><rect x="209.75" y="589.5" width="1.4" height="6" fill="#a8a8a8"/><rect x="214.3" y="585" width="0.9" height="12" fill="#1a1a1a"/><rect x="57.6" y="446.5" width="13" height="5.6" rx="1.8" fill="#0d0d0d"/><rect x="61" y="448.55" width="5.5" height="1.5" rx="0.7" fill="#a8a8a8"/><rect x="58.5" y="453.05" width="12.5" height="0.9" fill="#1a1a1a"/><rect x="57.6" y="454.8" width="13" height="5.6" rx="1.8" fill="#0d0d0d"/><rect x="61" y="456.85" width="5.5" height="1.5" rx="0.7" fill="#a8a8a8"/><rect x="58.5" y="461.35" width="12.5" height="0.9" fill="#1a1a1a"/><rect x="57.6" y="463.1" width="13" height="5.6" rx="1.8" fill="#0d0d0d"/><rect x="61" y="465.15" width="5.5" height="1.5" rx="0.7" fill="#a8a8a8"/><rect x="58.5" y="469.65" width="12.5" height="0.9" fill="#1a1a1a"/><rect x="57.6" y="471.4" width="13" height="5.6" rx="1.8" fill="#0d0d0d"/><rect x="61" y="473.45" width="5.5" height="1.5" rx="0.7" fill="#a8a8a8"/><rect x="58.5" y="477.95" width="12.5" height="0.9" fill="#1a1a1a"/><rect x="57.6" y="479.7" width="13" height="5.6" rx="1.8" fill="#0d0d0d"/><rect x="61" y="481.75" width="5.5" height="1.5" rx="0.7" fill="#a8a8a8"/><rect x="58.5" y="486.25" width="12.5" height="0.9" fill="#1a1a1a"/><rect x="57.6" y="488" width="13" height="5.6" rx="1.8" fill="#0d0d0d"/><rect x="61" y="490.05" width="5.5" height="1.5" rx="0.7" fill="#a8a8a8"/><rect x="58.5" y="494.55" width="12.5" height="0.9" fill="#1a1a1a"/><rect x="57.6" y="496.3" width="13" height="5.6" rx="1.8" fill="#0d0d0d"/><rect x="61" y="498.35" width="5.5" height="1.5" rx="0.7" fill="#a8a8a8"/><rect x="58.5" y="502.85" width="12.5" height="0.9" fill="#1a1a1a"/><rect x="57.6" y="504.6" width="13" height="5.6" rx="1.8" fill="#0d0d0d"/><rect x="61" y="506.65" width="5.5" height="1.5" rx="0.7" fill="#a8a8a8"/><rect x="58.5" y="511.15" width="12.5" height="0.9" fill="#1a1a1a"/><rect x="57.6" y="512.9" width="13" height="5.6" rx="1.8" fill="#0d0d0d"/><rect x="61" y="514.95" width="5.5" height="1.5" rx="0.7" fill="#a8a8a8"/><rect x="58.5" y="519.45" width="12.5" height="0.9" fill="#1a1a1a"/><rect x="57.6" y="521.2" width="13" height="5.6" rx="1.8" fill="#0d0d0d"/><rect x="61" y="523.25" width="5.5" height="1.5" rx="0.7" fill="#a8a8a8"/><rect x="58.5" y="527.75" width="12.5" height="0.9" fill="#1a1a1a"/><rect x="57.6" y="529.5" width="13" height="5.6" rx="1.8" fill="#0d0d0d"/><rect x="61" y="531.55" width="5.5" height="1.5" rx="0.7" fill="#a8a8a8"/><rect x="58.5" y="536.05" width="12.5" height="0.9" fill="#1a1a1a"/><rect x="57.6" y="537.8" width="13" height="5.6" rx="1.8" fill="#0d0d0d"/><rect x="61" y="539.85" width="5.5" height="1.5" rx="0.7" fill="#a8a8a8"/><rect x="58.5" y="544.35" width="12.5" height="0.9" fill="#1a1a1a"/><rect x="57.6" y="546.1" width="13" height="5.6" rx="1.8" fill="#0d0d0d"/><rect x="61" y="548.15" width="5.5" height="1.5" rx="0.7" fill="#a8a8a8"/><rect x="58.5" y="552.65" width="12.5" height="0.9" fill="#1a1a1a"/><rect x="57.6" y="554.4" width="13" height="5.6" rx="1.8" fill="#0d0d0d"/><rect x="61" y="556.45" width="5.5" height="1.5" rx="0.7" fill="#a8a8a8"/><rect x="58.5" y="560.95" width="12.5" height="0.9" fill="#1a1a1a"/><rect x="57.6" y="562.7" width="13" height="5.6" rx="1.8" fill="#0d0d0d"/><rect x="61" y="564.75" width="5.5" height="1.5" rx="0.7" fill="#a8a8a8"/><rect x="58.5" y="569.25" width="12.5" height="0.9" fill="#1a1a1a"/><rect x="57.6" y="571" width="13" height="5.6" rx="1.8" fill="#0d0d0d"/><rect x="61" y="573.05" width="5.5" height="1.5" rx="0.7" fill="#a8a8a8"/><rect x="58.5" y="577.55" width="12.5" height="0.9" fill="#1a1a1a"/><rect x="219" y="469" width="13" height="5.6" rx="1.8" fill="#0d0d0d"/><rect x="223" y="471.05" width="5.5" height="1.5" rx="0.7" fill="#a8a8a8"/><rect x="219" y="475.55" width="12.5" height="0.9" fill="#1a1a1a"/><path d="M235.2 470.2 l5 2.4" stroke="#1a1a1a" stroke-width="1.5" stroke-linecap="round"/><rect x="219" y="477.3" width="13" height="5.6" rx="1.8" fill="#0d0d0d"/><rect x="223" y="479.35" width="5.5" height="1.5" rx="0.7" fill="#a8a8a8"/><rect x="219" y="483.85" width="12.5" height="0.9" fill="#1a1a1a"/><path d="M235.2 478.5 l5 2.4" stroke="#1a1a1a" stroke-width="1.5" stroke-linecap="round"/><rect x="219" y="485.6" width="13" height="5.6" rx="1.8" fill="#0d0d0d"/><rect x="223" y="487.65" width="5.5" height="1.5" rx="0.7" fill="#a8a8a8"/><rect x="219" y="492.15" width="12.5" height="0.9" fill="#1a1a1a"/><path d="M235.2 486.8 l5 2.4" stroke="#1a1a1a" stroke-width="1.5" stroke-linecap="round"/><rect x="219" y="493.9" width="13" height="5.6" rx="1.8" fill="#0d0d0d"/><rect x="223" y="495.95" width="5.5" height="1.5" rx="0.7" fill="#a8a8a8"/><rect x="219" y="500.45" width="12.5" height="0.9" fill="#1a1a1a"/><path d="M235.2 495.1 l5 2.4" stroke="#1a1a1a" stroke-width="1.5" stroke-linecap="round"/><rect x="219" y="502.2" width="13" height="5.6" rx="1.8" fill="#0d0d0d"/><rect x="223" y="504.25" width="5.5" height="1.5" rx="0.7" fill="#a8a8a8"/><rect x="219" y="508.75" width="12.5" height="0.9" fill="#1a1a1a"/><path d="M235.2 503.4 l5 2.4" stroke="#1a1a1a" stroke-width="1.5" stroke-linecap="round"/><rect x="219" y="510.5" width="13" height="5.6" rx="1.8" fill="#0d0d0d"/><rect x="223" y="512.55" width="5.5" height="1.5" rx="0.7" fill="#a8a8a8"/><rect x="219" y="517.05" width="12.5" height="0.9" fill="#1a1a1a"/><path d="M235.2 511.7 l5 2.4" stroke="#1a1a1a" stroke-width="1.5" stroke-linecap="round"/><rect x="219" y="518.8" width="13" height="5.6" rx="1.8" fill="#0d0d0d"/><rect x="223" y="520.85" width="5.5" height="1.5" rx="0.7" fill="#a8a8a8"/><rect x="219" y="525.35" width="12.5" height="0.9" fill="#1a1a1a"/><path d="M235.2 520 l5 2.4" stroke="#1a1a1a" stroke-width="1.5" stroke-linecap="round"/><rect x="219" y="527.1" width="13" height="5.6" rx="1.8" fill="#0d0d0d"/><rect x="223" y="529.15" width="5.5" height="1.5" rx="0.7" fill="#a8a8a8"/><rect x="219" y="533.65" width="12.5" height="0.9" fill="#1a1a1a"/><path d="M235.2 528.3 l5 2.4" stroke="#1a1a1a" stroke-width="1.5" stroke-linecap="round"/><rect x="219" y="535.4" width="13" height="5.6" rx="1.8" fill="#0d0d0d"/><rect x="223" y="537.45" width="5.5" height="1.5" rx="0.7" fill="#a8a8a8"/><rect x="219" y="541.95" width="12.5" height="0.9" fill="#1a1a1a"/><path d="M235.2 536.6 l5 2.4" stroke="#1a1a1a" stroke-width="1.5" stroke-linecap="round"/><rect x="219" y="543.7" width="13" height="5.6" rx="1.8" fill="#0d0d0d"/><rect x="223" y="545.75" width="5.5" height="1.5" rx="0.7" fill="#a8a8a8"/><rect x="219" y="550.25" width="12.5" height="0.9" fill="#1a1a1a"/><path d="M235.2 544.9 l5 2.4" stroke="#1a1a1a" stroke-width="1.5" stroke-linecap="round"/><rect x="219" y="552" width="13" height="5.6" rx="1.8" fill="#0d0d0d"/><rect x="223" y="554.05" width="5.5" height="1.5" rx="0.7" fill="#a8a8a8"/><rect x="219" y="558.55" width="12.5" height="0.9" fill="#1a1a1a"/><path d="M235.2 553.2 l5 2.4" stroke="#1a1a1a" stroke-width="1.5" stroke-linecap="round"/><rect x="219" y="560.3" width="13" height="5.6" rx="1.8" fill="#0d0d0d"/><rect x="223" y="562.35" width="5.5" height="1.5" rx="0.7" fill="#a8a8a8"/><rect x="219" y="566.85" width="12.5" height="0.9" fill="#1a1a1a"/><path d="M235.2 561.5 l5 2.4" stroke="#1a1a1a" stroke-width="1.5" stroke-linecap="round"/><rect x="219" y="568.6" width="13" height="5.6" rx="1.8" fill="#0d0d0d"/><rect x="223" y="570.65" width="5.5" height="1.5" rx="0.7" fill="#a8a8a8"/><rect x="219" y="575.15" width="12.5" height="0.9" fill="#1a1a1a"/><path d="M235.2 569.8 l5 2.4" stroke="#1a1a1a" stroke-width="1.5" stroke-linecap="round"/><rect x="219" y="576.9" width="13" height="5.6" rx="1.8" fill="#0d0d0d"/><rect x="223" y="578.95" width="5.5" height="1.5" rx="0.7" fill="#a8a8a8"/><rect x="219" y="583.45" width="12.5" height="0.9" fill="#1a1a1a"/><path d="M235.2 578.1 l5 2.4" stroke="#1a1a1a" stroke-width="1.5" stroke-linecap="round"/>
<circle cx="50.1" cy="460.5" r="4.3" fill="#f4f4f4"/><circle cx="50.1" cy="460.5" r="2.0" fill="#fff" stroke="#1a1a1a" stroke-width="1.1"/><circle cx="50.1" cy="471.7" r="4.3" fill="#f4f4f4"/><circle cx="50.1" cy="471.7" r="2.0" fill="#fff" stroke="#1a1a1a" stroke-width="1.1"/><circle cx="50.1" cy="483.6" r="4.3" fill="#f4f4f4"/><circle cx="50.1" cy="483.6" r="2.0" fill="#fff" stroke="#1a1a1a" stroke-width="1.1"/><circle cx="50.1" cy="495.3" r="4.3" fill="#f4f4f4"/><circle cx="50.1" cy="495.3" r="2.0" fill="#fff" stroke="#1a1a1a" stroke-width="1.1"/><circle cx="50.1" cy="506.9" r="4.3" fill="#f4f4f4"/><circle cx="50.1" cy="506.9" r="2.0" fill="#fff" stroke="#1a1a1a" stroke-width="1.1"/><circle cx="50.1" cy="518.5" r="4.3" fill="#f4f4f4"/><circle cx="50.1" cy="518.5" r="2.0" fill="#fff" stroke="#1a1a1a" stroke-width="1.1"/><circle cx="50.1" cy="541.5" r="4.3" fill="#f4f4f4"/><circle cx="50.1" cy="541.5" r="2.0" fill="#fff" stroke="#1a1a1a" stroke-width="1.1"/><circle cx="50.1" cy="553" r="4.3" fill="#f4f4f4"/><circle cx="50.1" cy="553" r="2.0" fill="#fff" stroke="#1a1a1a" stroke-width="1.1"/><circle cx="50.1" cy="565" r="4.3" fill="#f4f4f4"/><circle cx="50.1" cy="565" r="2.0" fill="#fff" stroke="#1a1a1a" stroke-width="1.1"/><circle cx="50.1" cy="576" r="4.3" fill="#f4f4f4"/><circle cx="50.1" cy="576" r="2.0" fill="#fff" stroke="#1a1a1a" stroke-width="1.1"/><circle cx="42" cy="460.5" r="4.3" fill="#f4f4f4"/><circle cx="42" cy="460.5" r="2.0" fill="#fff" stroke="#1a1a1a" stroke-width="1.1"/><circle cx="42" cy="471.7" r="4.3" fill="#f4f4f4"/><circle cx="42" cy="471.7" r="2.0" fill="#fff" stroke="#1a1a1a" stroke-width="1.1"/><circle cx="42" cy="483.6" r="4.3" fill="#f4f4f4"/><circle cx="42" cy="483.6" r="2.0" fill="#fff" stroke="#1a1a1a" stroke-width="1.1"/><circle cx="42" cy="495.3" r="4.3" fill="#f4f4f4"/><circle cx="42" cy="495.3" r="2.0" fill="#fff" stroke="#1a1a1a" stroke-width="1.1"/><circle cx="42" cy="506.9" r="4.3" fill="#f4f4f4"/><circle cx="42" cy="506.9" r="2.0" fill="#fff" stroke="#1a1a1a" stroke-width="1.1"/><circle cx="42" cy="518.5" r="4.3" fill="#f4f4f4"/><circle cx="42" cy="518.5" r="2.0" fill="#fff" stroke="#1a1a1a" stroke-width="1.1"/><circle cx="42" cy="565" r="4.3" fill="#f4f4f4"/><circle cx="42" cy="565" r="2.0" fill="#fff" stroke="#1a1a1a" stroke-width="1.1"/><circle cx="50.1" cy="449" r="4.3" fill="#f4f4f4"/><circle cx="50.1" cy="449" r="2.0" fill="#fff" stroke="#1a1a1a" stroke-width="1.1"/><circle cx="44" cy="421.5" r="4.3" fill="#f4f4f4"/><circle cx="44" cy="421.5" r="2.0" fill="#fff" stroke="#1a1a1a" stroke-width="1.1"/><circle cx="74.2" cy="421.5" r="4.3" fill="#f4f4f4"/><circle cx="74.2" cy="421.5" r="2.0" fill="#fff" stroke="#1a1a1a" stroke-width="1.1"/><circle cx="92" cy="421.5" r="4.3" fill="#f4f4f4"/><circle cx="92" cy="421.5" r="2.0" fill="#fff" stroke="#1a1a1a" stroke-width="1.1"/><circle cx="103.6" cy="421.5" r="4.3" fill="#f4f4f4"/><circle cx="103.6" cy="421.5" r="2.0" fill="#fff" stroke="#1a1a1a" stroke-width="1.1"/><circle cx="150.2" cy="421.5" r="4.3" fill="#f4f4f4"/><circle cx="150.2" cy="421.5" r="2.0" fill="#fff" stroke="#1a1a1a" stroke-width="1.1"/><circle cx="161.7" cy="421.5" r="4.3" fill="#f4f4f4"/><circle cx="161.7" cy="421.5" r="2.0" fill="#fff" stroke="#1a1a1a" stroke-width="1.1"/><circle cx="173.3" cy="421.5" r="4.3" fill="#f4f4f4"/><circle cx="173.3" cy="421.5" r="2.0" fill="#fff" stroke="#1a1a1a" stroke-width="1.1"/><circle cx="82" cy="607" r="4.3" fill="#f4f4f4"/><circle cx="82" cy="607" r="2.0" fill="#fff" stroke="#1a1a1a" stroke-width="1.1"/><circle cx="103.6" cy="607" r="4.3" fill="#f4f4f4"/><circle cx="103.6" cy="607" r="2.0" fill="#fff" stroke="#1a1a1a" stroke-width="1.1"/><circle cx="115.3" cy="607" r="4.3" fill="#f4f4f4"/><circle cx="115.3" cy="607" r="2.0" fill="#fff" stroke="#1a1a1a" stroke-width="1.1"/><circle cx="127.2" cy="607" r="4.3" fill="#f4f4f4"/><circle cx="127.2" cy="607" r="2.0" fill="#fff" stroke="#1a1a1a" stroke-width="1.1"/><circle cx="138.8" cy="607" r="4.3" fill="#f4f4f4"/><circle cx="138.8" cy="607" r="2.0" fill="#fff" stroke="#1a1a1a" stroke-width="1.1"/><circle cx="150.4" cy="607" r="4.3" fill="#f4f4f4"/><circle cx="150.4" cy="607" r="2.0" fill="#fff" stroke="#1a1a1a" stroke-width="1.1"/><circle cx="162" cy="607" r="4.3" fill="#f4f4f4"/><circle cx="162" cy="607" r="2.0" fill="#fff" stroke="#1a1a1a" stroke-width="1.1"/><circle cx="173.6" cy="607" r="4.3" fill="#f4f4f4"/><circle cx="173.6" cy="607" r="2.0" fill="#fff" stroke="#1a1a1a" stroke-width="1.1"/><circle cx="185.2" cy="607" r="4.3" fill="#f4f4f4"/><circle cx="185.2" cy="607" r="2.0" fill="#fff" stroke="#1a1a1a" stroke-width="1.1"/><circle cx="196.8" cy="607" r="4.3" fill="#f4f4f4"/><circle cx="196.8" cy="607" r="2.0" fill="#fff" stroke="#1a1a1a" stroke-width="1.1"/><circle cx="208.4" cy="607" r="4.3" fill="#f4f4f4"/><circle cx="208.4" cy="607" r="2.0" fill="#fff" stroke="#1a1a1a" stroke-width="1.1"/>
<rect x="50" y="408.4" width="19.5" height="4.2" rx="2" fill="#0b0b0b"/>
<rect x="75.6" y="408.4" width="7.2" height="4.2" rx="2" fill="#0b0b0b"/>
<rect x="101" y="408.4" width="8" height="4.2" rx="2" fill="#0b0b0b"/>
<rect x="135.3" y="408.4" width="11.3" height="3.8" rx="2" fill="#0b0b0b"/>
<rect x="176" y="409" width="5" height="5" rx="2.5" fill="#0b0b0b"/>
<rect x="48" y="423.7" width="6.8" height="17.3" rx="2.2" fill="#0b0b0b"/>
<rect x="59.3" y="420.7" width="7.1" height="20.3" rx="2.2" fill="#0b0b0b"/>
<rect x="37.2" y="527.7" width="6.1" height="21.5" rx="2.8" fill="#0b0b0b"/>
<rect x="37.8" y="428.8" width="3" height="4" rx="1" fill="#0b0b0b"/>
<rect x="42" y="428.8" width="3" height="4" rx="1" fill="#0b0b0b"/>
<rect x="37.8" y="436" width="3" height="4" rx="1" fill="#0b0b0b"/>
<rect x="42" y="436" width="3" height="4" rx="1" fill="#0b0b0b"/>
<rect x="69" y="428" width="3" height="3.4" rx="1" fill="#0b0b0b"/>
<rect x="74" y="428" width="3" height="3.4" rx="1" fill="#0b0b0b"/>
<rect x="69" y="435" width="3" height="3.4" rx="1" fill="#0b0b0b"/>
<rect x="74" y="435" width="3" height="3.4" rx="1" fill="#0b0b0b"/>
<rect x="57.5" y="581.5" width="4.6" height="4.6" rx="1" fill="#0b0b0b"/>
<rect x="66" y="581.5" width="4.6" height="4.6" rx="1" fill="#0b0b0b"/>
<rect x="38.5" y="524.5" width="3.4" height="2.6" rx="1" fill="#0b0b0b"/>
<circle cx="57" cy="578" r="3.2" fill="#9a9a9a"/>
<circle cx="198.5" cy="597" r="3.6" fill="#9a9a9a"/>
<circle cx="92" cy="603" r="3.4" fill="#9a9a9a"/>
<circle cx="230" cy="598" r="3.6" fill="#9a9a9a"/>
</g>
<rect x="183" y="407.4" width="58.6" height="60.3" fill="#f2f2f2"/>
<rect x="184" y="407.4" width="57.6" height="59.3" fill="#2c6239"/>
<rect x="191" y="413.5" width="44" height="4.6" fill="#8c948b"/>
<rect x="191" y="460.6" width="44" height="3.4" fill="#8c948b"/>
<rect x="189.6" y="419" width="3.6" height="41" fill="#7f8a80"/>
<rect x="235.4" y="419" width="3.6" height="41" fill="#7f8a80"/>
<rect x="193" y="418.4" width="42.6" height="42.2" fill="#3a3a3d"/>
<rect x="204.8" y="430.3" width="23.5" height="24.7" rx="2.2" fill="#efefef"/>
<rect x="186" y="408.6" width="50" height="3.4" fill="#35704a"/>
<rect x="195" y="409" width="2.2" height="2.4" fill="#b9c4b4"/>
<rect x="199.4" y="409" width="2.2" height="2.4" fill="#b9c4b4"/>
<rect x="203.8" y="409" width="2.2" height="2.4" fill="#b9c4b4"/>
<rect x="208.2" y="409" width="2.2" height="2.4" fill="#b9c4b4"/>
<rect x="212.6" y="409" width="2.2" height="2.4" fill="#b9c4b4"/>
<rect x="217" y="409" width="2.2" height="2.4" fill="#b9c4b4"/>
<rect x="221.4" y="409" width="2.2" height="2.4" fill="#b9c4b4"/>
<rect x="225.8" y="409" width="2.2" height="2.4" fill="#b9c4b4"/>
<rect x="230.2" y="409" width="2.2" height="2.4" fill="#b9c4b4"/>
<circle cx="238.3" cy="412.3" r="1.3" fill="#c98a3c"/>
<circle cx="190" cy="462.6" r="1.3" fill="#c98a3c"/>
<circle cx="238.6" cy="462.3" r="1.3" fill="#c98a3c"/>
<circle cx="186.2" cy="421" r="0.7" fill="#c9a24c"/>
<circle cx="196" cy="465.3" r="0.7" fill="#c9a24c"/>
<circle cx="186.2" cy="425.2" r="0.7" fill="#c9a24c"/>
<circle cx="200.4" cy="465.3" r="0.7" fill="#c9a24c"/>
<circle cx="186.2" cy="429.4" r="0.7" fill="#c9a24c"/>
<circle cx="204.8" cy="465.3" r="0.7" fill="#c9a24c"/>
<circle cx="186.2" cy="433.6" r="0.7" fill="#c9a24c"/>
<circle cx="209.2" cy="465.3" r="0.7" fill="#c9a24c"/>
<circle cx="186.2" cy="437.8" r="0.7" fill="#c9a24c"/>
<circle cx="213.6" cy="465.3" r="0.7" fill="#c9a24c"/>
<circle cx="186.2" cy="442" r="0.7" fill="#c9a24c"/>
<circle cx="218" cy="465.3" r="0.7" fill="#c9a24c"/>
<circle cx="186.2" cy="446.2" r="0.7" fill="#c9a24c"/>
<circle cx="222.4" cy="465.3" r="0.7" fill="#c9a24c"/>
<circle cx="186.2" cy="450.4" r="0.7" fill="#c9a24c"/>
<circle cx="226.8" cy="465.3" r="0.7" fill="#c9a24c"/>
<circle cx="186.2" cy="454.6" r="0.7" fill="#c9a24c"/>
<circle cx="231.2" cy="465.3" r="0.7" fill="#c9a24c"/>
<circle cx="197.5" cy="457.2" r="0.8" fill="#1c1c1c"/>
<rect x="36.05" y="407.15" width="206.3" height="205.2" fill="none" stroke="#0a0a0a" stroke-width="1.7"/>
<text x="8.6" y="406.4" font-size="11" font-weight="bold" fill="#111" stroke="#111" stroke-width="0.35">e</text>
</g>
<g id="panel-f">
<polygon points="406.5,429.07 488.81,492.26 463.34,597.23 349.66,597.23 314.53,489.12" fill="#fcb064"/>
<polygon points="406.5,429.07 488.81,492.26 463.34,597.23 349.66,597.23 314.53,489.12" fill="url(#chkO)"/>
<polygon points="406.5,425.68 491.57,491.36 417.58,534.26 355.06,589.8 386.73,512.58" fill="#dde8f2" fill-opacity="0.6" stroke="#b3d3f1" stroke-width="1.1" stroke-linejoin="round"/>
<polygon points="406.5,425.68 491.57,491.36 417.58,534.26 355.06,589.8 386.73,512.58" fill="url(#chkS)"/>
<polygon points="406.5,464.36 489.73,491.96 426.96,547.16 398.71,529.72 388.11,513.02" fill="#b9f2a6" fill-opacity="0.95"/>
<polygon points="406.5,464.36 489.73,491.96 426.96,547.16 398.71,529.72 388.11,513.02" fill="url(#chkG)"/>
<polygon points="406.5,514.65 489.27,492.11 411.44,525.81 356.48,587.84 388.11,513.02" fill="#d0d0d0" fill-opacity="0.78" stroke="#c3d3e3" stroke-width="0.9" stroke-linejoin="round"/>
<polygon points="406.5,514.65 489.27,492.11 411.44,525.81 356.48,587.84 388.11,513.02" fill="url(#chkS)"/>
<polygon points="406.5,464.36 489.73,491.96 426.96,547.16 398.71,529.72 388.11,513.02" fill="none" stroke="#1fb71f" stroke-width="1.4" stroke-linejoin="round"/>
<polygon points="406.5,506.91 418,515.26 413.6,528.78 399.4,528.78 395,515.26" fill="none" stroke="#5b4a38" stroke-opacity="0.38" stroke-width="0.5"/>
<polygon points="406.5,494.82 429.49,511.53 420.71,538.56 392.29,538.56 383.51,511.53" fill="none" stroke="#5b4a38" stroke-opacity="0.38" stroke-width="0.5"/>
<polygon points="406.5,482.74 440.99,507.79 427.81,548.34 385.19,548.34 372.01,507.79" fill="none" stroke="#5b4a38" stroke-opacity="0.38" stroke-width="0.5"/>
<polygon points="406.5,470.65 452.48,504.06 434.92,558.12 378.08,558.12 360.52,504.06" fill="none" stroke="#5b4a38" stroke-opacity="0.38" stroke-width="0.5"/>
<polygon points="406.5,458.56 463.98,500.32 442.02,567.89 370.98,567.89 349.02,500.32" fill="none" stroke="#5b4a38" stroke-opacity="0.38" stroke-width="0.5"/>
<polygon points="406.5,446.48 475.48,496.59 449.13,577.67 363.87,577.67 337.52,496.59" fill="none" stroke="#5b4a38" stroke-opacity="0.38" stroke-width="0.5"/>
<polygon points="406.5,434.39 486.97,492.85 456.23,587.45 356.77,587.45 326.03,492.85" fill="none" stroke="#5b4a38" stroke-opacity="0.38" stroke-width="0.5"/>
<polygon points="406.5,422.3 498.47,489.12 463.34,597.23 349.66,597.23 314.53,489.12" fill="none" stroke="#9a9a9a" stroke-width="0.6"/>
<polygon points="406.5,429.07 488.81,492.26 463.34,597.23 349.66,597.23 314.53,489.12" fill="none" stroke="#e58a2c" stroke-width="1.0" stroke-linejoin="round"/>
<line x1="406.5" y1="519" x2="406.5" y2="422.3" stroke="#1f1f1f" stroke-width="0.95"/>
<line x1="406.5" y1="519" x2="498.47" y2="489.12" stroke="#1f1f1f" stroke-width="0.95"/>
<line x1="406.5" y1="519" x2="463.34" y2="597.23" stroke="#1f1f1f" stroke-width="0.95"/>
<line x1="406.5" y1="519" x2="349.66" y2="597.23" stroke="#1f1f1f" stroke-width="0.95"/>
<line x1="406.5" y1="519" x2="314.53" y2="489.12" stroke="#1f1f1f" stroke-width="0.95"/>
<text x="406.8" y="420" font-size="10" text-anchor="middle" fill="#111" stroke="#111" stroke-width="0.22">Decay lifetime</text>
<text x="503" y="492.8" font-size="10" fill="#111" stroke="#111" stroke-width="0.22">Stokes shift</text>
<text x="312" y="493" font-size="10" text-anchor="end" fill="#111" stroke="#111" stroke-width="0.22">Resolution</text>
<text x="348.4" y="608.3" font-size="10" text-anchor="middle" fill="#111" stroke="#111" stroke-width="0.22">PLQY</text>
<text x="461.7" y="609.4" font-size="10" text-anchor="middle" fill="#111" stroke="#111" stroke-width="0.22">FWHM</text>
<rect x="484.6" y="542.4" width="21.7" height="10.2" fill="#fbae62"/>
<rect x="484.6" y="542.4" width="21.7" height="10.2" fill="url(#chkO)"/>
<rect x="484.6" y="542.4" width="21.7" height="10.2" fill="none" stroke="#e0a060" stroke-width="0.7"/>
<text x="509.8" y="551" font-size="10" fill="#d9751a">BTD-HeBr</text>
<rect x="484.6" y="554.5" width="21.7" height="10.2" fill="#e4f0fc"/>
<rect x="484.6" y="554.5" width="21.7" height="10.2" fill="none" stroke="#c9c9c9" stroke-width="0.7"/>
<text x="509.8" y="563.1" font-size="10" fill="#1e96e6">TPE-4Br</text>
<rect x="484.6" y="566.7" width="21.7" height="10.2" fill="#c4f7b4"/>
<rect x="484.6" y="566.7" width="21.7" height="10.2" fill="url(#chkG)"/>
<rect x="484.6" y="566.7" width="21.7" height="10.2" fill="none" stroke="#c9c9c9" stroke-width="0.7"/>
<text x="509.8" y="575.3" font-size="10" fill="#1a8a1a">TADF-Br</text>
<rect x="484.6" y="578.8" width="21.7" height="10.2" fill="#dedede"/>
<rect x="484.6" y="578.8" width="21.7" height="10.2" fill="url(#chkS)"/>
<rect x="484.6" y="578.8" width="21.7" height="10.2" fill="none" stroke="#c9c9c9" stroke-width="0.7"/>
<text x="509.8" y="587.4" font-size="10" fill="#333">o-ITC</text>
<text x="559.8" y="551" font-size="8.9" font-weight="bold" fill="#d9751a">This work.</text>
<text x="559.8" y="563" font-size="8.9" fill="#1e96e6"><tspan font-style="italic">Nat. Photon. </tspan><tspan font-weight="bold">2024</tspan>, <tspan font-style="italic">18</tspan>, 162.</text>
<text x="559.8" y="575.2" font-size="8.9" fill="#1a8a1a"><tspan font-style="italic">Nat. Photon. </tspan><tspan font-weight="bold">2022</tspan>, <tspan font-style="italic">16</tspan>, 869.</text>
<text x="559.8" y="587.3" font-size="8.9" fill="#333"><tspan font-style="italic">Nat. Photon. </tspan><tspan font-weight="bold">2021</tspan>, <tspan font-style="italic">15</tspan>, 187.</text>
<text x="265.6" y="407.2" font-size="11" font-weight="bold" fill="#111" stroke="#111" stroke-width="0.35">f</text>
</g>
</svg>
</body></html>
